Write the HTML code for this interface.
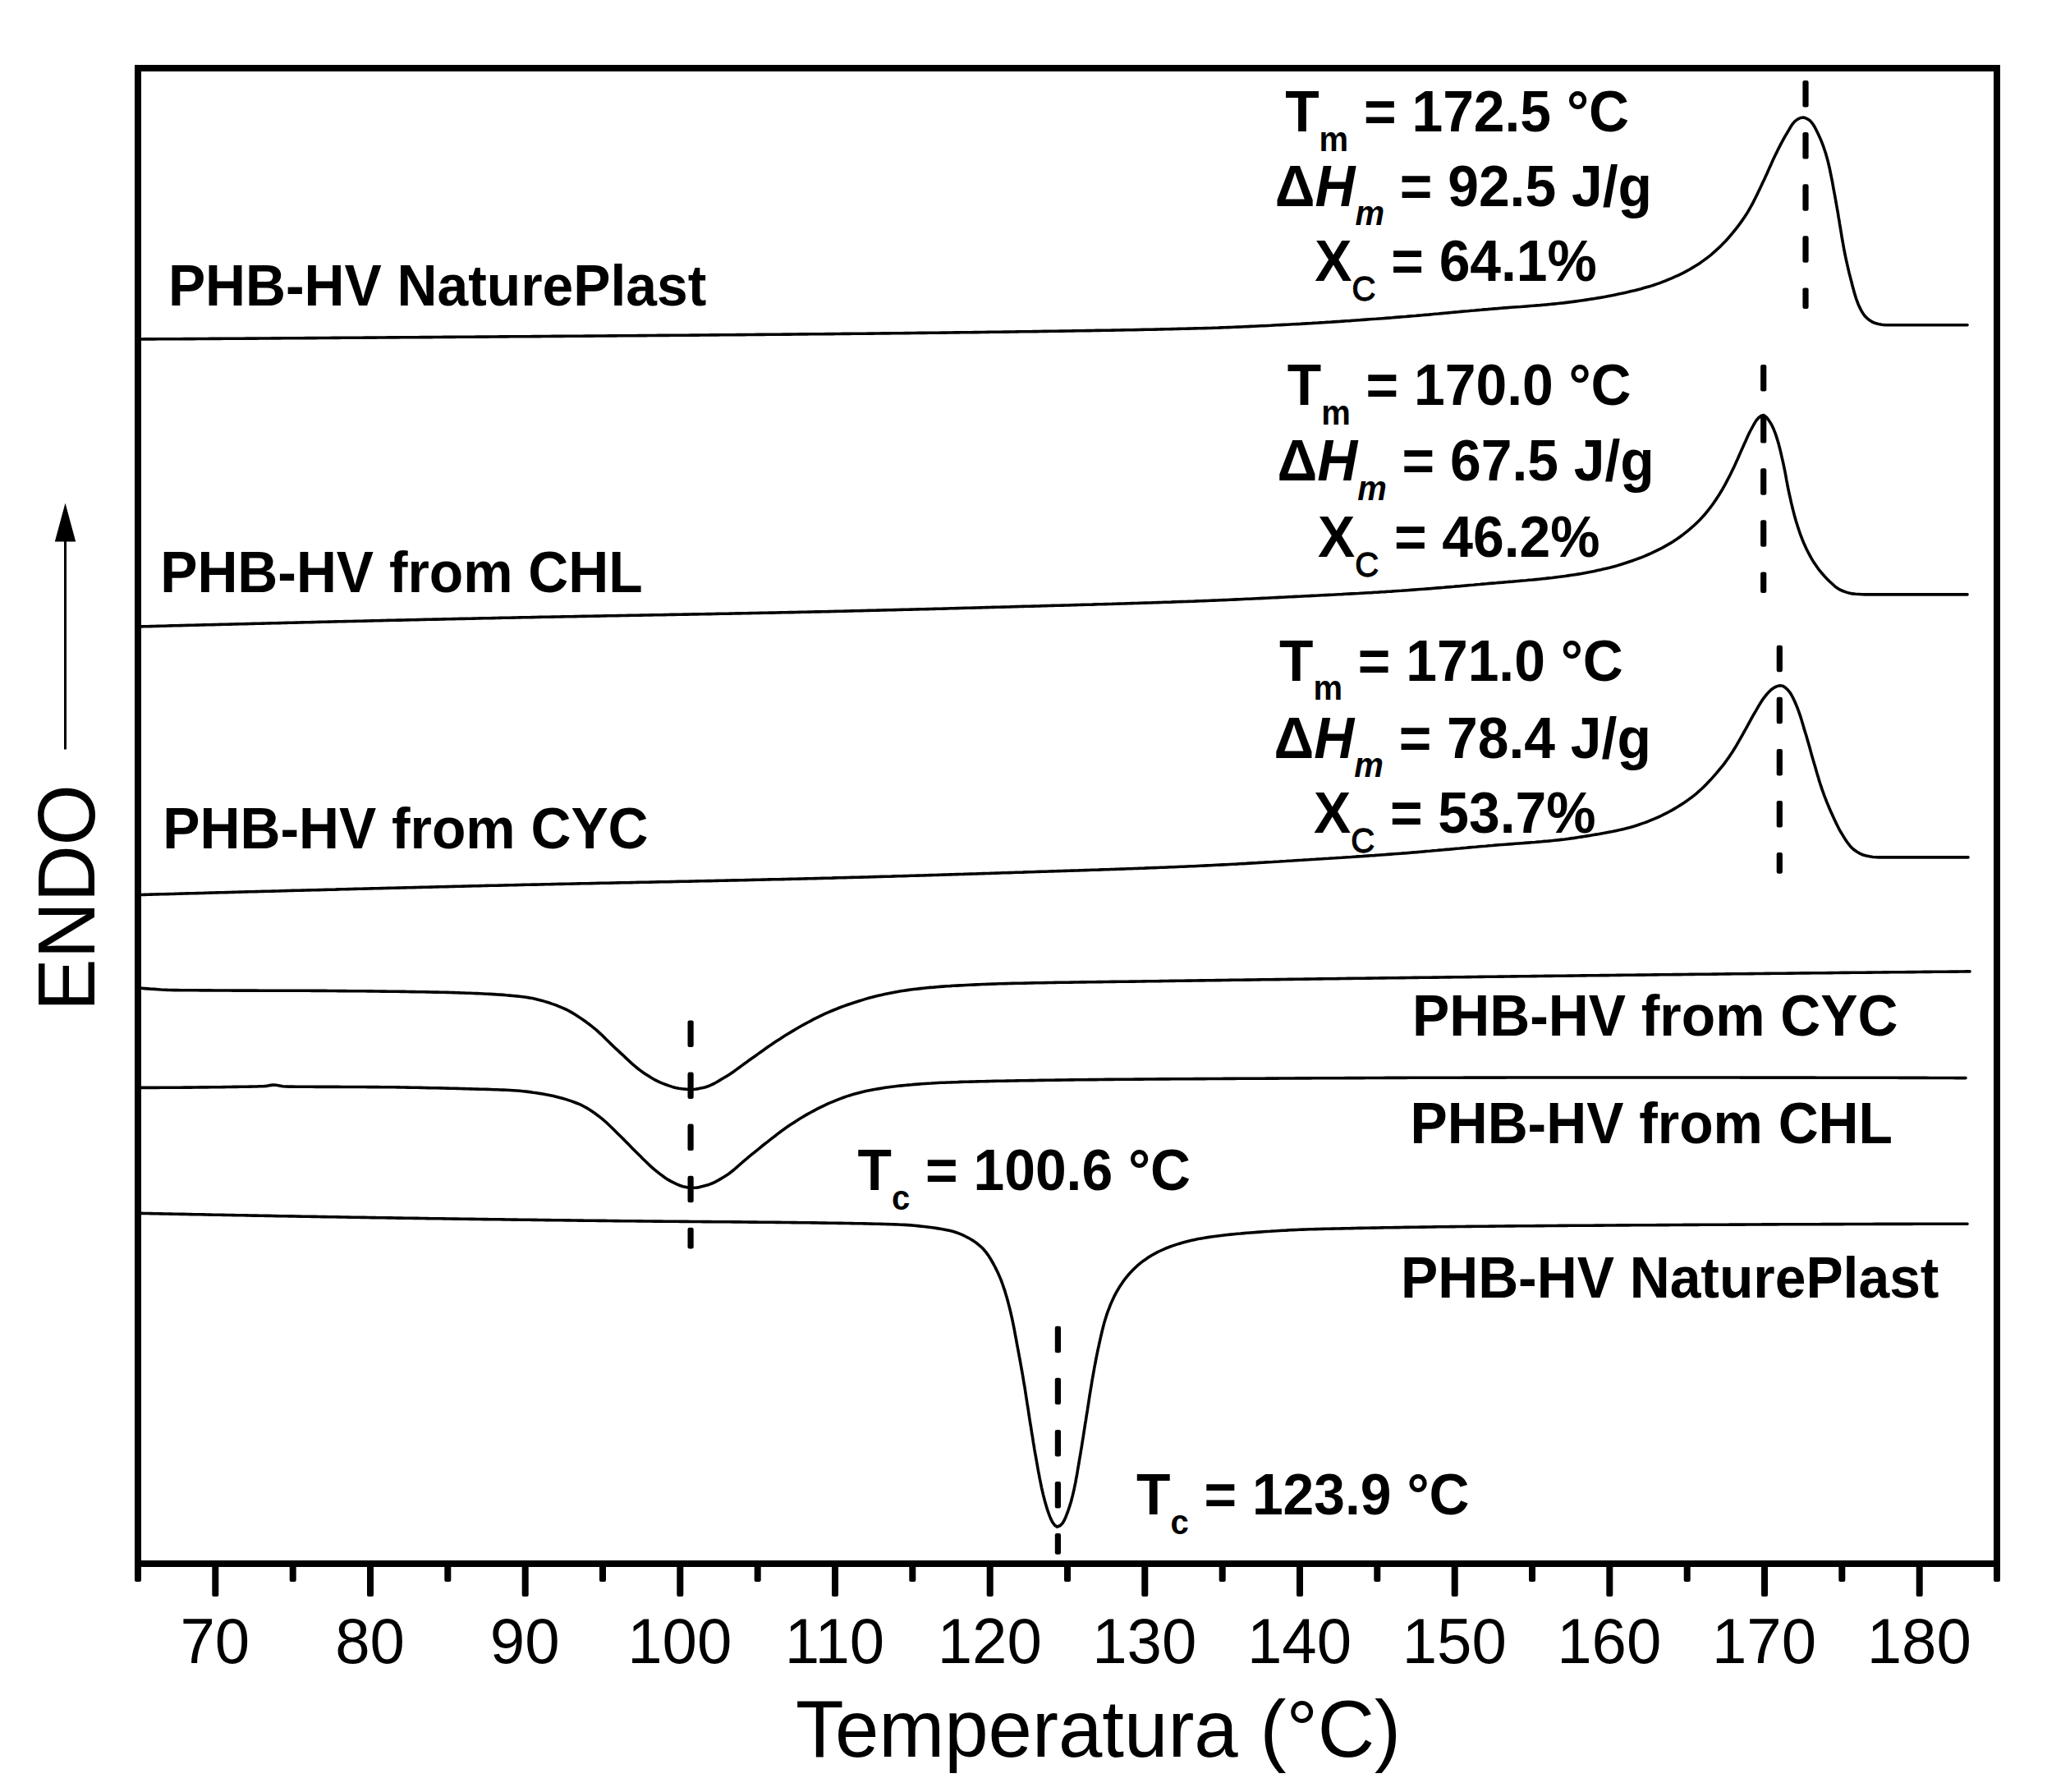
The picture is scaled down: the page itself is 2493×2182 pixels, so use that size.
<!DOCTYPE html>
<html lang="en"><head><meta charset="utf-8"><title>DSC thermograms</title>
<style>html,body{margin:0;padding:0;background:#fff}svg{display:block}</style></head>
<body>
<svg width="2493" height="2182" viewBox="0 0 2493 2182" font-family="Liberation Sans, Arial, Helvetica, sans-serif" fill="#000">
<rect width="2493" height="2182" fill="#fff"/>
<path d="M168.0,413.0 L172.0,413.0 L176.0,412.9 L180.0,412.9 L184.0,412.9 L188.1,412.9 L192.1,412.8 L196.1,412.8 L200.1,412.8 L204.1,412.8 L208.1,412.7 L212.1,412.7 L216.1,412.7 L220.1,412.7 L224.2,412.6 L228.2,412.6 L232.2,412.6 L236.2,412.6 L240.2,412.5 L244.2,412.5 L248.2,412.5 L252.2,412.5 L256.2,412.4 L260.3,412.4 L264.3,412.4 L268.3,412.4 L272.3,412.3 L276.3,412.3 L280.3,412.3 L284.3,412.2 L288.3,412.2 L292.4,412.2 L296.4,412.2 L300.4,412.1 L304.4,412.1 L308.4,412.1 L312.4,412.1 L316.4,412.0 L320.4,412.0 L324.4,412.0 L328.5,412.0 L332.5,411.9 L336.5,411.9 L340.5,411.9 L344.5,411.8 L348.5,411.8 L352.5,411.8 L356.5,411.8 L360.5,411.7 L364.6,411.7 L368.6,411.7 L372.6,411.6 L376.6,411.6 L380.6,411.6 L384.6,411.6 L388.6,411.5 L392.6,411.5 L396.6,411.5 L400.7,411.5 L404.7,411.4 L408.7,411.4 L412.7,411.4 L416.7,411.3 L420.7,411.3 L424.7,411.3 L428.7,411.3 L432.7,411.2 L436.8,411.2 L440.8,411.2 L444.8,411.1 L448.8,411.1 L452.8,411.1 L456.8,411.1 L460.8,411.0 L464.8,411.0 L468.8,411.0 L472.9,410.9 L476.9,410.9 L480.9,410.9 L484.9,410.9 L488.9,410.8 L492.9,410.8 L496.9,410.8 L500.9,410.7 L505.0,410.7 L509.0,410.7 L513.0,410.6 L517.0,410.6 L521.0,410.6 L525.0,410.6 L529.0,410.5 L533.0,410.5 L537.0,410.5 L541.1,410.4 L545.1,410.4 L549.1,410.4 L553.1,410.4 L557.1,410.3 L561.1,410.3 L565.1,410.3 L569.1,410.2 L573.1,410.2 L577.2,410.2 L581.2,410.1 L585.2,410.1 L589.2,410.1 L593.2,410.1 L597.2,410.0 L601.2,410.0 L605.2,410.0 L609.2,409.9 L613.3,409.9 L617.3,409.9 L621.3,409.8 L625.3,409.8 L629.3,409.8 L633.3,409.7 L637.3,409.7 L641.3,409.7 L645.3,409.7 L649.4,409.6 L653.4,409.6 L657.4,409.6 L661.4,409.5 L665.4,409.5 L669.4,409.5 L673.4,409.4 L677.4,409.4 L681.4,409.4 L685.5,409.4 L689.5,409.3 L693.5,409.3 L697.5,409.3 L701.5,409.2 L705.5,409.2 L709.5,409.2 L713.5,409.1 L717.6,409.1 L721.6,409.1 L725.6,409.0 L729.6,409.0 L733.6,409.0 L737.6,409.0 L741.6,408.9 L745.6,408.9 L749.6,408.9 L753.7,408.8 L757.7,408.8 L761.7,408.8 L765.7,408.7 L769.7,408.7 L773.7,408.7 L777.7,408.6 L781.7,408.6 L785.7,408.6 L789.8,408.5 L793.8,408.5 L797.8,408.5 L801.8,408.4 L805.8,408.4 L809.8,408.4 L813.8,408.4 L817.8,408.3 L821.8,408.3 L825.9,408.3 L829.9,408.2 L833.9,408.2 L837.9,408.2 L841.9,408.1 L845.9,408.1 L849.9,408.1 L853.9,408.0 L857.9,408.0 L862.0,408.0 L866.0,407.9 L870.0,407.9 L874.0,407.9 L878.0,407.8 L882.0,407.8 L886.0,407.7 L890.0,407.7 L894.0,407.7 L898.1,407.6 L902.1,407.6 L906.1,407.6 L910.1,407.5 L914.1,407.5 L918.1,407.5 L922.1,407.4 L926.1,407.4 L930.1,407.4 L934.2,407.3 L938.2,407.3 L942.2,407.2 L946.2,407.2 L950.2,407.2 L954.2,407.1 L958.2,407.1 L962.2,407.1 L966.3,407.0 L970.3,407.0 L974.3,406.9 L978.3,406.9 L982.3,406.9 L986.3,406.8 L990.3,406.8 L994.3,406.8 L998.3,406.7 L1002.4,406.7 L1006.4,406.6 L1010.4,406.6 L1014.4,406.6 L1018.4,406.5 L1022.4,406.5 L1026.4,406.4 L1030.4,406.4 L1034.4,406.4 L1038.5,406.3 L1042.5,406.3 L1046.5,406.2 L1050.5,406.2 L1054.5,406.2 L1058.5,406.1 L1062.5,406.1 L1066.5,406.0 L1070.5,406.0 L1074.6,405.9 L1078.6,405.9 L1082.6,405.9 L1086.6,405.8 L1090.6,405.8 L1094.6,405.7 L1098.6,405.7 L1102.6,405.6 L1106.6,405.6 L1110.7,405.5 L1114.7,405.5 L1118.7,405.4 L1122.7,405.4 L1126.7,405.4 L1130.7,405.3 L1134.7,405.3 L1138.7,405.2 L1142.7,405.2 L1146.8,405.1 L1150.8,405.1 L1154.8,405.0 L1158.8,405.0 L1162.8,404.9 L1166.8,404.9 L1170.8,404.8 L1174.8,404.8 L1178.8,404.7 L1182.9,404.7 L1186.9,404.6 L1190.9,404.6 L1194.9,404.5 L1198.9,404.5 L1202.9,404.4 L1206.9,404.3 L1210.9,404.3 L1214.9,404.2 L1219.0,404.2 L1223.0,404.1 L1227.0,404.1 L1231.0,404.0 L1235.0,404.0 L1239.0,403.9 L1243.0,403.8 L1247.0,403.8 L1251.0,403.7 L1255.1,403.7 L1259.1,403.6 L1263.1,403.6 L1267.1,403.5 L1271.1,403.4 L1275.1,403.4 L1279.1,403.3 L1283.1,403.3 L1287.1,403.2 L1291.2,403.1 L1295.2,403.1 L1299.2,403.0 L1303.2,403.0 L1307.2,402.9 L1311.2,402.8 L1315.2,402.8 L1319.2,402.7 L1323.2,402.6 L1327.3,402.6 L1331.3,402.5 L1335.3,402.4 L1339.3,402.4 L1343.3,402.3 L1347.3,402.2 L1351.3,402.2 L1355.3,402.1 L1359.3,402.0 L1363.4,402.0 L1367.4,401.9 L1371.4,401.8 L1375.4,401.7 L1379.4,401.7 L1383.4,401.6 L1387.4,401.5 L1391.4,401.4 L1395.4,401.3 L1399.5,401.2 L1403.5,401.2 L1407.5,401.1 L1411.5,401.0 L1415.5,400.9 L1419.5,400.8 L1423.5,400.7 L1427.5,400.6 L1431.5,400.5 L1435.5,400.4 L1439.6,400.3 L1443.6,400.2 L1447.6,400.1 L1451.6,400.0 L1455.6,399.9 L1459.6,399.8 L1463.6,399.7 L1467.6,399.6 L1471.6,399.5 L1475.6,399.4 L1479.6,399.2 L1483.7,399.1 L1487.7,398.9 L1491.7,398.8 L1495.7,398.6 L1499.7,398.5 L1503.7,398.3 L1507.7,398.1 L1511.7,398.0 L1515.7,397.8 L1519.7,397.6 L1523.7,397.4 L1527.7,397.2 L1531.8,397.0 L1535.8,396.8 L1539.8,396.7 L1543.8,396.5 L1547.8,396.3 L1551.8,396.0 L1555.8,395.8 L1559.8,395.6 L1563.8,395.4 L1567.8,395.2 L1571.8,395.0 L1575.8,394.8 L1579.8,394.6 L1583.8,394.4 L1587.8,394.1 L1591.8,393.9 L1595.8,393.7 L1599.8,393.4 L1603.9,393.2 L1607.9,392.9 L1611.9,392.7 L1615.9,392.4 L1619.9,392.2 L1623.9,391.9 L1627.9,391.6 L1631.9,391.4 L1635.9,391.1 L1639.9,390.8 L1643.9,390.6 L1647.9,390.3 L1651.9,390.0 L1655.9,389.7 L1659.9,389.4 L1663.9,389.1 L1667.9,388.8 L1671.9,388.5 L1675.9,388.3 L1679.9,388.0 L1683.9,387.7 L1687.9,387.4 L1691.9,387.1 L1695.9,386.8 L1699.9,386.4 L1703.9,386.1 L1707.9,385.8 L1711.9,385.5 L1715.9,385.1 L1719.9,384.8 L1723.9,384.5 L1727.9,384.1 L1731.9,383.8 L1735.9,383.4 L1739.9,383.1 L1743.9,382.7 L1747.9,382.3 L1751.8,382.0 L1755.8,381.6 L1759.8,381.2 L1763.8,380.9 L1767.8,380.5 L1771.8,380.1 L1775.8,379.8 L1779.8,379.4 L1783.8,379.0 L1787.8,378.7 L1791.8,378.3 L1795.8,378.0 L1799.8,377.6 L1803.8,377.3 L1807.8,376.9 L1811.8,376.6 L1815.8,376.2 L1819.8,375.9 L1823.8,375.6 L1827.8,375.2 L1831.8,374.9 L1835.8,374.6 L1839.8,374.3 L1843.8,374.0 L1847.8,373.7 L1851.8,373.5 L1855.8,373.2 L1859.8,372.9 L1863.8,372.5 L1867.8,372.2 L1871.8,371.9 L1875.8,371.6 L1879.8,371.2 L1883.8,370.9 L1887.8,370.5 L1891.8,370.1 L1895.7,369.7 L1899.7,369.3 L1903.7,368.9 L1907.7,368.4 L1911.7,367.9 L1915.7,367.4 L1919.6,366.9 L1923.6,366.3 L1927.6,365.7 L1931.6,365.1 L1935.5,364.5 L1939.5,363.9 L1943.5,363.2 L1947.4,362.6 L1951.4,361.9 L1955.3,361.2 L1959.2,360.4 L1963.2,359.7 L1967.1,358.9 L1971.1,358.1 L1975.0,357.3 L1978.9,356.4 L1982.9,355.6 L1986.8,354.6 L1990.7,353.7 L1994.6,352.7 L1998.5,351.7 L2002.3,350.6 L2006.1,349.5 L2010.0,348.4 L2013.8,347.2 L2017.6,345.9 L2021.4,344.6 L2025.1,343.1 L2028.9,341.7 L2032.6,340.1 L2036.3,338.6 L2040.0,336.9 L2043.7,335.3 L2047.3,333.6 L2050.8,331.8 L2054.4,329.9 L2057.9,328.0 L2061.4,325.9 L2064.9,323.8 L2068.2,321.7 L2071.6,319.4 L2074.8,317.1 L2078.0,314.8 L2081.2,312.3 L2084.3,309.8 L2087.4,307.1 L2090.4,304.4 L2093.4,301.7 L2096.2,298.9 L2099.1,296.0 L2101.8,293.2 L2104.5,290.2 L2107.1,287.2 L2109.7,284.1 L2112.3,281.0 L2114.8,277.9 L2117.3,274.6 L2119.7,271.4 L2122.0,268.1 L2124.3,264.8 L2126.5,261.4 L2128.6,258.1 L2130.6,254.7 L2132.6,251.2 L2134.5,247.7 L2136.3,244.1 L2138.1,240.5 L2139.9,236.9 L2141.6,233.2 L2143.4,229.6 L2145.1,226.0 L2146.8,222.3 L2148.6,218.7 L2150.2,215.1 L2151.9,211.4 L2153.5,207.8 L2155.1,204.1 L2156.8,200.4 L2158.4,196.7 L2160.1,193.1 L2161.8,189.5 L2163.6,185.9 L2165.3,182.3 L2167.2,178.7 L2169.0,175.1 L2170.9,171.6 L2172.8,168.1 L2174.8,164.6 L2176.9,161.2 L2179.0,157.6 L2181.1,154.0 L2183.4,150.6 L2186.0,147.6 L2189.0,145.4 L2192.8,143.5 L2196.6,143.0 L2200.5,144.4 L2203.9,146.6 L2206.5,149.2 L2208.8,152.5 L2210.9,156.2 L2212.8,160.0 L2214.5,163.6 L2216.2,167.2 L2217.8,170.9 L2219.3,174.6 L2220.7,178.4 L2222.0,182.3 L2223.3,186.1 L2224.4,189.9 L2225.5,193.8 L2226.5,197.6 L2227.4,201.5 L2228.3,205.4 L2229.1,209.3 L2229.9,213.3 L2230.7,217.2 L2231.5,221.2 L2232.2,225.1 L2232.9,229.1 L2233.6,233.0 L2234.4,237.0 L2235.1,241.0 L2235.8,244.9 L2236.5,248.9 L2237.2,252.8 L2237.9,256.8 L2238.6,260.7 L2239.2,264.7 L2239.9,268.6 L2240.5,272.6 L2241.2,276.6 L2241.8,280.5 L2242.5,284.5 L2243.1,288.4 L2243.8,292.4 L2244.5,296.3 L2245.2,300.3 L2245.9,304.2 L2246.7,308.2 L2247.5,312.1 L2248.3,316.0 L2249.2,319.9 L2250.1,323.9 L2251.0,327.8 L2251.9,331.7 L2252.9,335.6 L2253.9,339.4 L2254.9,343.3 L2255.9,347.2 L2256.9,351.1 L2258.0,355.0 L2259.1,358.9 L2260.3,362.8 L2261.6,366.5 L2263.0,370.2 L2264.7,373.9 L2266.5,377.6 L2268.6,381.2 L2270.9,384.4 L2273.5,387.1 L2276.7,389.8 L2280.2,392.0 L2283.9,393.6 L2287.6,394.5 L2291.6,395.3 L2295.7,395.7 L2299.7,395.8 L2303.7,395.8 L2307.7,395.8 L2311.7,395.8 L2315.7,395.8 L2319.6,395.8 L2323.6,395.8 L2327.6,395.8 L2331.6,395.8 L2335.6,395.8 L2339.6,395.8 L2343.6,395.8 L2347.6,395.8 L2351.7,395.8 L2355.7,395.8 L2359.7,395.8 L2363.7,395.8 L2367.7,395.8 L2371.8,395.8 L2375.8,395.8 L2379.8,395.8 L2383.9,395.8 L2387.9,395.8 L2391.9,395.8 L2396.0,395.8" fill="none" stroke="#000" stroke-width="3.6" stroke-linejoin="round" stroke-linecap="round"/>
<path d="M168.0,763.0 L172.0,762.9 L176.0,762.8 L180.0,762.7 L184.0,762.6 L188.0,762.5 L192.0,762.4 L196.0,762.3 L200.1,762.2 L204.1,762.0 L208.1,761.9 L212.1,761.8 L216.1,761.7 L220.1,761.6 L224.1,761.5 L228.1,761.4 L232.1,761.3 L236.1,761.2 L240.1,761.1 L244.1,761.0 L248.1,760.9 L252.1,760.8 L256.2,760.7 L260.2,760.6 L264.2,760.5 L268.2,760.4 L272.2,760.3 L276.2,760.2 L280.2,760.1 L284.2,760.0 L288.2,759.9 L292.2,759.8 L296.2,759.7 L300.2,759.6 L304.2,759.5 L308.2,759.4 L312.2,759.3 L316.3,759.2 L320.3,759.1 L324.3,759.0 L328.3,758.9 L332.3,758.8 L336.3,758.7 L340.3,758.6 L344.3,758.5 L348.3,758.4 L352.3,758.3 L356.3,758.2 L360.3,758.1 L364.3,758.0 L368.3,757.9 L372.4,757.8 L376.4,757.7 L380.4,757.6 L384.4,757.5 L388.4,757.4 L392.4,757.3 L396.4,757.2 L400.4,757.1 L404.4,757.0 L408.4,756.9 L412.4,756.8 L416.4,756.7 L420.4,756.6 L424.4,756.5 L428.5,756.5 L432.5,756.4 L436.5,756.3 L440.5,756.2 L444.5,756.1 L448.5,756.0 L452.5,755.9 L456.5,755.8 L460.5,755.7 L464.5,755.6 L468.5,755.5 L472.5,755.4 L476.5,755.3 L480.5,755.2 L484.6,755.1 L488.6,755.1 L492.6,755.0 L496.6,754.9 L500.6,754.8 L504.6,754.7 L508.6,754.6 L512.6,754.5 L516.6,754.4 L520.6,754.3 L524.6,754.2 L528.6,754.1 L532.6,754.1 L536.6,754.0 L540.7,753.9 L544.7,753.8 L548.7,753.7 L552.7,753.6 L556.7,753.5 L560.7,753.4 L564.7,753.4 L568.7,753.3 L572.7,753.2 L576.7,753.1 L580.7,753.0 L584.7,752.9 L588.7,752.8 L592.8,752.7 L596.8,752.7 L600.8,752.6 L604.8,752.5 L608.8,752.4 L612.8,752.3 L616.8,752.2 L620.8,752.2 L624.8,752.1 L628.8,752.0 L632.8,751.9 L636.8,751.8 L640.8,751.7 L644.8,751.7 L648.9,751.6 L652.9,751.5 L656.9,751.4 L660.9,751.3 L664.9,751.3 L668.9,751.2 L672.9,751.1 L676.9,751.0 L680.9,751.0 L684.9,750.9 L688.9,750.8 L692.9,750.7 L696.9,750.7 L701.0,750.6 L705.0,750.5 L709.0,750.4 L713.0,750.4 L717.0,750.3 L721.0,750.2 L725.0,750.1 L729.0,750.1 L733.0,750.0 L737.0,749.9 L741.0,749.8 L745.0,749.8 L749.0,749.7 L753.1,749.6 L757.1,749.5 L761.1,749.5 L765.1,749.4 L769.1,749.3 L773.1,749.2 L777.1,749.2 L781.1,749.1 L785.1,749.0 L789.1,749.0 L793.1,748.9 L797.1,748.8 L801.1,748.7 L805.1,748.7 L809.2,748.6 L813.2,748.5 L817.2,748.4 L821.2,748.4 L825.2,748.3 L829.2,748.2 L833.2,748.1 L837.2,748.1 L841.2,748.0 L845.2,747.9 L849.2,747.9 L853.2,747.8 L857.2,747.7 L861.3,747.6 L865.3,747.6 L869.3,747.5 L873.3,747.4 L877.3,747.3 L881.3,747.2 L885.3,747.2 L889.3,747.1 L893.3,747.0 L897.3,746.9 L901.3,746.9 L905.3,746.8 L909.3,746.7 L913.4,746.6 L917.4,746.5 L921.4,746.5 L925.4,746.4 L929.4,746.3 L933.4,746.2 L937.4,746.1 L941.4,746.1 L945.4,746.0 L949.4,745.9 L953.4,745.8 L957.4,745.7 L961.4,745.6 L965.4,745.6 L969.5,745.5 L973.5,745.4 L977.5,745.3 L981.5,745.2 L985.5,745.1 L989.5,745.0 L993.5,744.9 L997.5,744.9 L1001.5,744.8 L1005.5,744.7 L1009.5,744.6 L1013.5,744.5 L1017.5,744.4 L1021.5,744.3 L1025.6,744.2 L1029.6,744.1 L1033.6,744.0 L1037.6,743.9 L1041.6,743.8 L1045.6,743.7 L1049.6,743.6 L1053.6,743.5 L1057.6,743.4 L1061.6,743.3 L1065.6,743.2 L1069.6,743.1 L1073.6,743.0 L1077.6,742.9 L1081.7,742.8 L1085.7,742.7 L1089.7,742.6 L1093.7,742.5 L1097.7,742.4 L1101.7,742.3 L1105.7,742.2 L1109.7,742.1 L1113.7,742.0 L1117.7,741.9 L1121.7,741.8 L1125.7,741.7 L1129.7,741.6 L1133.7,741.5 L1137.8,741.4 L1141.8,741.3 L1145.8,741.2 L1149.8,741.1 L1153.8,741.0 L1157.8,740.8 L1161.8,740.7 L1165.8,740.6 L1169.8,740.5 L1173.8,740.4 L1177.8,740.3 L1181.8,740.2 L1185.8,740.1 L1189.8,740.0 L1193.8,739.9 L1197.9,739.8 L1201.9,739.6 L1205.9,739.5 L1209.9,739.4 L1213.9,739.3 L1217.9,739.2 L1221.9,739.1 L1225.9,739.0 L1229.9,738.9 L1233.9,738.7 L1237.9,738.6 L1241.9,738.5 L1245.9,738.4 L1249.9,738.3 L1253.9,738.2 L1258.0,738.1 L1262.0,738.0 L1266.0,737.9 L1270.0,737.7 L1274.0,737.6 L1278.0,737.5 L1282.0,737.4 L1286.0,737.3 L1290.0,737.2 L1294.0,737.1 L1298.0,737.0 L1302.0,736.9 L1306.0,736.7 L1310.0,736.6 L1314.1,736.5 L1318.1,736.4 L1322.1,736.3 L1326.1,736.2 L1330.1,736.1 L1334.1,735.9 L1338.1,735.8 L1342.1,735.7 L1346.1,735.6 L1350.1,735.5 L1354.1,735.4 L1358.1,735.2 L1362.1,735.1 L1366.1,735.0 L1370.1,734.9 L1374.2,734.7 L1378.2,734.6 L1382.2,734.5 L1386.2,734.4 L1390.2,734.2 L1394.2,734.1 L1398.2,734.0 L1402.2,733.9 L1406.2,733.7 L1410.2,733.6 L1414.2,733.5 L1418.2,733.3 L1422.2,733.2 L1426.2,733.1 L1430.2,732.9 L1434.2,732.8 L1438.2,732.6 L1442.3,732.5 L1446.3,732.4 L1450.3,732.2 L1454.3,732.1 L1458.3,731.9 L1462.3,731.8 L1466.3,731.6 L1470.3,731.5 L1474.3,731.3 L1478.3,731.1 L1482.3,731.0 L1486.3,730.8 L1490.3,730.6 L1494.3,730.5 L1498.3,730.3 L1502.3,730.1 L1506.3,729.9 L1510.3,729.7 L1514.3,729.5 L1518.3,729.3 L1522.3,729.2 L1526.3,729.0 L1530.4,728.8 L1534.4,728.6 L1538.4,728.4 L1542.4,728.2 L1546.4,728.0 L1550.4,727.8 L1554.4,727.6 L1558.4,727.4 L1562.4,727.2 L1566.4,727.0 L1570.4,726.8 L1574.4,726.6 L1578.4,726.4 L1582.4,726.2 L1586.4,726.0 L1590.4,725.8 L1594.4,725.6 L1598.4,725.4 L1602.4,725.2 L1606.4,725.0 L1610.4,724.8 L1614.4,724.6 L1618.4,724.4 L1622.4,724.2 L1626.4,724.0 L1630.4,723.8 L1634.4,723.6 L1638.4,723.3 L1642.4,723.1 L1646.4,722.9 L1650.5,722.7 L1654.5,722.5 L1658.5,722.2 L1662.5,722.0 L1666.5,721.8 L1670.5,721.6 L1674.5,721.3 L1678.5,721.1 L1682.5,720.8 L1686.5,720.6 L1690.5,720.3 L1694.5,720.1 L1698.5,719.8 L1702.5,719.5 L1706.5,719.3 L1710.5,719.0 L1714.5,718.7 L1718.4,718.4 L1722.4,718.1 L1726.4,717.8 L1730.4,717.5 L1734.4,717.2 L1738.4,716.9 L1742.4,716.6 L1746.4,716.2 L1750.4,715.9 L1754.4,715.6 L1758.4,715.3 L1762.4,714.9 L1766.4,714.6 L1770.4,714.3 L1774.4,713.9 L1778.4,713.6 L1782.4,713.2 L1786.4,712.9 L1790.4,712.5 L1794.4,712.2 L1798.4,711.8 L1802.3,711.5 L1806.3,711.1 L1810.3,710.8 L1814.3,710.4 L1818.3,710.1 L1822.3,709.8 L1826.3,709.4 L1830.3,709.1 L1834.3,708.7 L1838.3,708.4 L1842.3,708.1 L1846.3,707.7 L1850.3,707.4 L1854.3,707.0 L1858.3,706.7 L1862.3,706.3 L1866.3,706.0 L1870.3,705.6 L1874.3,705.2 L1878.2,704.8 L1882.2,704.4 L1886.2,703.9 L1890.2,703.5 L1894.2,703.0 L1898.1,702.5 L1902.1,702.0 L1906.1,701.5 L1910.0,700.9 L1914.0,700.3 L1918.0,699.7 L1921.9,699.1 L1925.9,698.4 L1929.8,697.7 L1933.8,696.9 L1937.7,696.2 L1941.7,695.4 L1945.6,694.5 L1949.5,693.7 L1953.4,692.8 L1957.3,691.9 L1961.2,691.0 L1965.0,689.9 L1968.9,688.9 L1972.8,687.7 L1976.6,686.5 L1980.5,685.3 L1984.3,684.0 L1988.1,682.7 L1991.8,681.4 L1995.6,680.0 L1999.3,678.6 L2003.0,677.1 L2006.7,675.5 L2010.4,673.9 L2014.1,672.2 L2017.7,670.4 L2021.3,668.6 L2024.8,666.8 L2028.3,664.9 L2031.8,662.9 L2035.2,660.9 L2038.6,658.7 L2042.0,656.5 L2045.3,654.2 L2048.6,651.8 L2051.7,649.4 L2054.9,646.9 L2057.9,644.4 L2061.0,641.7 L2064.0,639.0 L2066.9,636.2 L2069.7,633.4 L2072.5,630.5 L2075.2,627.6 L2077.8,624.5 L2080.3,621.4 L2082.8,618.2 L2085.2,615.0 L2087.5,611.7 L2089.8,608.4 L2092.0,605.1 L2094.1,601.7 L2096.2,598.3 L2098.2,594.8 L2100.2,591.3 L2102.1,587.8 L2104.0,584.2 L2105.8,580.7 L2107.7,577.1 L2109.4,573.5 L2111.2,569.9 L2112.9,566.3 L2114.5,562.6 L2116.2,559.0 L2117.8,555.3 L2119.4,551.6 L2121.0,547.9 L2122.7,544.3 L2124.3,540.6 L2126.0,537.0 L2127.6,533.3 L2129.3,529.6 L2131.0,526.0 L2132.9,522.5 L2134.8,519.0 L2136.8,515.4 L2139.0,511.9 L2141.5,509.0 L2144.8,506.3 L2148.2,505.6 L2151.4,508.2 L2154.1,511.6 L2156.2,514.9 L2158.2,518.4 L2159.9,522.1 L2161.4,525.9 L2162.8,529.6 L2164.0,533.4 L2165.2,537.2 L2166.3,541.1 L2167.3,545.0 L2168.3,548.9 L2169.2,552.8 L2170.1,556.8 L2171.0,560.7 L2171.9,564.6 L2172.7,568.5 L2173.5,572.4 L2174.3,576.4 L2175.0,580.3 L2175.7,584.3 L2176.5,588.2 L2177.2,592.1 L2178.0,596.1 L2178.8,600.0 L2179.7,603.9 L2180.6,607.8 L2181.4,611.7 L2182.4,615.6 L2183.3,619.5 L2184.3,623.4 L2185.3,627.3 L2186.4,631.2 L2187.5,635.0 L2188.7,638.8 L2189.9,642.7 L2191.2,646.5 L2192.5,650.3 L2193.9,654.0 L2195.4,657.8 L2196.9,661.5 L2198.5,665.1 L2200.2,668.7 L2202.0,672.3 L2203.9,675.9 L2205.8,679.4 L2207.9,682.9 L2210.1,686.3 L2212.3,689.5 L2214.6,692.8 L2217.1,695.9 L2219.7,699.0 L2222.4,702.0 L2225.2,704.9 L2228.0,707.7 L2231.0,710.5 L2234.0,713.3 L2237.2,715.8 L2240.5,717.9 L2244.1,719.5 L2247.9,720.9 L2251.8,722.1 L2255.8,722.9 L2259.7,723.3 L2263.7,723.5 L2267.7,723.7 L2271.7,723.9 L2275.8,723.9 L2279.8,723.9 L2283.8,723.9 L2287.8,723.9 L2291.8,723.9 L2295.8,723.9 L2299.8,723.9 L2303.8,723.9 L2307.8,723.9 L2311.8,723.9 L2315.8,723.9 L2319.8,723.9 L2323.8,723.9 L2327.8,723.9 L2331.8,723.9 L2335.9,723.9 L2339.9,723.9 L2343.9,723.9 L2347.9,723.9 L2351.9,723.9 L2355.9,723.9 L2359.9,723.9 L2363.9,723.9 L2367.9,723.9 L2371.9,723.9 L2375.9,723.9 L2380.0,723.9 L2384.0,723.9 L2388.0,723.9 L2392.0,723.9 L2396.0,723.9" fill="none" stroke="#000" stroke-width="3.6" stroke-linejoin="round" stroke-linecap="round"/>
<path d="M168.0,1089.6 L172.0,1089.5 L176.0,1089.4 L180.0,1089.3 L184.0,1089.1 L188.0,1089.0 L192.0,1088.9 L196.0,1088.8 L200.0,1088.7 L204.0,1088.6 L208.1,1088.5 L212.1,1088.4 L216.1,1088.2 L220.1,1088.1 L224.1,1088.0 L228.1,1087.9 L232.1,1087.8 L236.1,1087.7 L240.1,1087.6 L244.1,1087.5 L248.1,1087.4 L252.1,1087.2 L256.1,1087.1 L260.1,1087.0 L264.1,1086.9 L268.1,1086.8 L272.1,1086.7 L276.1,1086.6 L280.2,1086.5 L284.2,1086.4 L288.2,1086.3 L292.2,1086.1 L296.2,1086.0 L300.2,1085.9 L304.2,1085.8 L308.2,1085.7 L312.2,1085.6 L316.2,1085.5 L320.2,1085.4 L324.2,1085.3 L328.2,1085.2 L332.2,1085.1 L336.2,1085.0 L340.2,1084.9 L344.2,1084.7 L348.3,1084.6 L352.3,1084.5 L356.3,1084.4 L360.3,1084.3 L364.3,1084.2 L368.3,1084.1 L372.3,1084.0 L376.3,1083.9 L380.3,1083.8 L384.3,1083.7 L388.3,1083.6 L392.3,1083.5 L396.3,1083.4 L400.3,1083.3 L404.3,1083.2 L408.3,1083.1 L412.3,1082.9 L416.3,1082.8 L420.4,1082.7 L424.4,1082.6 L428.4,1082.5 L432.4,1082.4 L436.4,1082.3 L440.4,1082.2 L444.4,1082.1 L448.4,1082.0 L452.4,1081.9 L456.4,1081.8 L460.4,1081.7 L464.4,1081.6 L468.4,1081.5 L472.4,1081.4 L476.4,1081.3 L480.4,1081.2 L484.4,1081.1 L488.5,1081.0 L492.5,1080.9 L496.5,1080.8 L500.5,1080.7 L504.5,1080.6 L508.5,1080.5 L512.5,1080.4 L516.5,1080.3 L520.5,1080.2 L524.5,1080.1 L528.5,1080.0 L532.5,1079.9 L536.5,1079.8 L540.5,1079.7 L544.5,1079.6 L548.5,1079.5 L552.5,1079.4 L556.6,1079.3 L560.6,1079.2 L564.6,1079.1 L568.6,1079.0 L572.6,1078.9 L576.6,1078.8 L580.6,1078.7 L584.6,1078.6 L588.6,1078.5 L592.6,1078.4 L596.6,1078.3 L600.6,1078.2 L604.6,1078.2 L608.6,1078.1 L612.6,1078.0 L616.6,1077.9 L620.6,1077.8 L624.7,1077.7 L628.7,1077.6 L632.7,1077.5 L636.7,1077.4 L640.7,1077.3 L644.7,1077.2 L648.7,1077.1 L652.7,1077.1 L656.7,1077.0 L660.7,1076.9 L664.7,1076.8 L668.7,1076.7 L672.7,1076.6 L676.7,1076.5 L680.7,1076.4 L684.7,1076.4 L688.7,1076.3 L692.8,1076.2 L696.8,1076.1 L700.8,1076.0 L704.8,1075.9 L708.8,1075.8 L712.8,1075.8 L716.8,1075.7 L720.8,1075.6 L724.8,1075.5 L728.8,1075.4 L732.8,1075.3 L736.8,1075.2 L740.8,1075.2 L744.8,1075.1 L748.8,1075.0 L752.8,1074.9 L756.9,1074.8 L760.9,1074.7 L764.9,1074.7 L768.9,1074.6 L772.9,1074.5 L776.9,1074.4 L780.9,1074.3 L784.9,1074.2 L788.9,1074.2 L792.9,1074.1 L796.9,1074.0 L800.9,1073.9 L804.9,1073.8 L808.9,1073.7 L812.9,1073.7 L816.9,1073.6 L821.0,1073.5 L825.0,1073.4 L829.0,1073.3 L833.0,1073.2 L837.0,1073.2 L841.0,1073.1 L845.0,1073.0 L849.0,1072.9 L853.0,1072.8 L857.0,1072.7 L861.0,1072.6 L865.0,1072.6 L869.0,1072.5 L873.0,1072.4 L877.0,1072.3 L881.0,1072.2 L885.1,1072.1 L889.1,1072.0 L893.1,1071.9 L897.1,1071.9 L901.1,1071.8 L905.1,1071.7 L909.1,1071.6 L913.1,1071.5 L917.1,1071.4 L921.1,1071.3 L925.1,1071.2 L929.1,1071.1 L933.1,1071.0 L937.1,1070.9 L941.1,1070.8 L945.1,1070.8 L949.2,1070.7 L953.2,1070.6 L957.2,1070.5 L961.2,1070.4 L965.2,1070.3 L969.2,1070.2 L973.2,1070.1 L977.2,1070.0 L981.2,1069.9 L985.2,1069.8 L989.2,1069.7 L993.2,1069.6 L997.2,1069.5 L1001.2,1069.4 L1005.2,1069.3 L1009.2,1069.2 L1013.2,1069.1 L1017.2,1068.9 L1021.3,1068.8 L1025.3,1068.7 L1029.3,1068.6 L1033.3,1068.5 L1037.3,1068.4 L1041.3,1068.3 L1045.3,1068.2 L1049.3,1068.1 L1053.3,1068.0 L1057.3,1067.9 L1061.3,1067.7 L1065.3,1067.6 L1069.3,1067.5 L1073.3,1067.4 L1077.3,1067.3 L1081.3,1067.2 L1085.3,1067.1 L1089.3,1066.9 L1093.4,1066.8 L1097.4,1066.7 L1101.4,1066.6 L1105.4,1066.5 L1109.4,1066.3 L1113.4,1066.2 L1117.4,1066.1 L1121.4,1066.0 L1125.4,1065.9 L1129.4,1065.7 L1133.4,1065.6 L1137.4,1065.5 L1141.4,1065.4 L1145.4,1065.2 L1149.4,1065.1 L1153.4,1065.0 L1157.4,1064.9 L1161.4,1064.8 L1165.4,1064.6 L1169.5,1064.5 L1173.5,1064.4 L1177.5,1064.2 L1181.5,1064.1 L1185.5,1064.0 L1189.5,1063.9 L1193.5,1063.7 L1197.5,1063.6 L1201.5,1063.5 L1205.5,1063.4 L1209.5,1063.2 L1213.5,1063.1 L1217.5,1063.0 L1221.5,1062.8 L1225.5,1062.7 L1229.5,1062.6 L1233.5,1062.5 L1237.5,1062.3 L1241.5,1062.2 L1245.5,1062.1 L1249.6,1061.9 L1253.6,1061.8 L1257.6,1061.7 L1261.6,1061.5 L1265.6,1061.4 L1269.6,1061.3 L1273.6,1061.2 L1277.6,1061.0 L1281.6,1060.9 L1285.6,1060.8 L1289.6,1060.6 L1293.6,1060.5 L1297.6,1060.4 L1301.6,1060.3 L1305.6,1060.1 L1309.6,1060.0 L1313.6,1059.9 L1317.6,1059.7 L1321.6,1059.6 L1325.7,1059.5 L1329.7,1059.3 L1333.7,1059.2 L1337.7,1059.1 L1341.7,1058.9 L1345.7,1058.8 L1349.7,1058.7 L1353.7,1058.5 L1357.7,1058.4 L1361.7,1058.2 L1365.7,1058.1 L1369.7,1058.0 L1373.7,1057.8 L1377.7,1057.7 L1381.7,1057.5 L1385.7,1057.4 L1389.7,1057.2 L1393.7,1057.1 L1397.7,1056.9 L1401.7,1056.8 L1405.7,1056.6 L1409.8,1056.5 L1413.8,1056.3 L1417.8,1056.2 L1421.8,1056.0 L1425.8,1055.8 L1429.8,1055.7 L1433.8,1055.5 L1437.8,1055.3 L1441.8,1055.2 L1445.8,1055.0 L1449.8,1054.8 L1453.8,1054.7 L1457.8,1054.5 L1461.8,1054.3 L1465.8,1054.1 L1469.8,1053.9 L1473.8,1053.7 L1477.8,1053.5 L1481.8,1053.3 L1485.8,1053.1 L1489.8,1052.9 L1493.8,1052.7 L1497.8,1052.5 L1501.8,1052.3 L1505.8,1052.1 L1509.8,1051.8 L1513.8,1051.6 L1517.8,1051.4 L1521.8,1051.1 L1525.8,1050.9 L1529.8,1050.7 L1533.8,1050.4 L1537.8,1050.2 L1541.8,1049.9 L1545.8,1049.7 L1549.8,1049.5 L1553.8,1049.2 L1557.8,1049.0 L1561.8,1048.7 L1565.8,1048.5 L1569.8,1048.2 L1573.8,1048.0 L1577.8,1047.7 L1581.8,1047.5 L1585.8,1047.3 L1589.8,1047.0 L1593.8,1046.8 L1597.8,1046.5 L1601.8,1046.3 L1605.8,1046.0 L1609.8,1045.8 L1613.8,1045.5 L1617.8,1045.3 L1621.8,1045.0 L1625.8,1044.8 L1629.8,1044.5 L1633.8,1044.3 L1637.8,1044.0 L1641.8,1043.7 L1645.8,1043.5 L1649.8,1043.2 L1653.8,1042.9 L1657.8,1042.7 L1661.8,1042.4 L1665.8,1042.1 L1669.8,1041.8 L1673.8,1041.6 L1677.8,1041.3 L1681.8,1041.0 L1685.8,1040.7 L1689.8,1040.4 L1693.8,1040.1 L1697.8,1039.8 L1701.8,1039.5 L1705.8,1039.2 L1709.7,1038.9 L1713.7,1038.6 L1717.7,1038.2 L1721.7,1037.9 L1725.7,1037.6 L1729.7,1037.2 L1733.7,1036.9 L1737.7,1036.5 L1741.7,1036.2 L1745.7,1035.8 L1749.7,1035.5 L1753.7,1035.1 L1757.7,1034.8 L1761.6,1034.4 L1765.6,1034.1 L1769.6,1033.7 L1773.6,1033.3 L1777.6,1033.0 L1781.6,1032.6 L1785.6,1032.3 L1789.6,1031.9 L1793.6,1031.5 L1797.6,1031.2 L1801.6,1030.8 L1805.6,1030.5 L1809.5,1030.2 L1813.5,1029.8 L1817.5,1029.5 L1821.5,1029.1 L1825.5,1028.8 L1829.5,1028.5 L1833.5,1028.2 L1837.5,1027.9 L1841.5,1027.6 L1845.5,1027.3 L1849.5,1027.0 L1853.5,1026.7 L1857.5,1026.4 L1861.5,1026.1 L1865.5,1025.8 L1869.5,1025.5 L1873.5,1025.1 L1877.5,1024.8 L1881.5,1024.4 L1885.5,1024.1 L1889.4,1023.7 L1893.4,1023.3 L1897.4,1022.9 L1901.4,1022.4 L1905.4,1022.0 L1909.3,1021.5 L1913.3,1020.9 L1917.3,1020.4 L1921.2,1019.8 L1925.2,1019.1 L1929.2,1018.5 L1933.1,1017.9 L1937.1,1017.2 L1941.0,1016.5 L1945.0,1015.9 L1948.9,1015.2 L1952.9,1014.5 L1956.8,1013.8 L1960.8,1013.0 L1964.7,1012.3 L1968.6,1011.4 L1972.6,1010.6 L1976.5,1009.7 L1980.3,1008.8 L1984.2,1007.8 L1988.0,1006.7 L1991.9,1005.5 L1995.7,1004.2 L1999.5,1002.9 L2003.3,1001.6 L2007.1,1000.2 L2010.8,998.7 L2014.5,997.2 L2018.1,995.6 L2021.8,994.0 L2025.4,992.2 L2029.0,990.4 L2032.6,988.5 L2036.1,986.6 L2039.5,984.6 L2043.0,982.5 L2046.4,980.4 L2049.8,978.2 L2053.1,976.0 L2056.4,973.6 L2059.6,971.3 L2062.8,968.8 L2065.9,966.3 L2068.9,963.7 L2071.9,961.0 L2074.8,958.3 L2077.6,955.4 L2080.4,952.5 L2083.2,949.6 L2085.9,946.6 L2088.5,943.6 L2091.1,940.6 L2093.7,937.5 L2096.3,934.4 L2098.8,931.3 L2101.2,928.1 L2103.6,924.8 L2105.9,921.6 L2108.1,918.3 L2110.3,914.9 L2112.4,911.5 L2114.5,908.1 L2116.5,904.6 L2118.5,901.1 L2120.5,897.6 L2122.5,894.1 L2124.4,890.7 L2126.4,887.2 L2128.3,883.6 L2130.2,880.1 L2132.1,876.6 L2134.0,873.1 L2136.0,869.6 L2138.1,866.1 L2140.1,862.6 L2142.1,859.1 L2144.2,855.7 L2146.4,852.3 L2148.7,849.1 L2151.2,846.0 L2153.9,842.9 L2156.8,840.0 L2160.0,837.7 L2163.5,835.9 L2167.5,834.7 L2171.2,835.2 L2174.7,837.6 L2177.6,840.3 L2180.0,843.3 L2182.1,846.7 L2184.0,850.4 L2185.8,854.2 L2187.4,858.0 L2188.9,861.6 L2190.3,865.3 L2191.6,869.1 L2192.9,872.9 L2194.1,876.8 L2195.2,880.6 L2196.4,884.5 L2197.5,888.4 L2198.7,892.2 L2199.9,896.0 L2201.0,899.9 L2202.1,903.7 L2203.2,907.6 L2204.3,911.4 L2205.3,915.3 L2206.4,919.2 L2207.5,923.0 L2208.6,926.9 L2209.8,930.7 L2210.9,934.6 L2212.0,938.4 L2213.1,942.3 L2214.3,946.1 L2215.4,949.9 L2216.6,953.8 L2217.9,957.6 L2219.1,961.4 L2220.5,965.1 L2221.8,968.9 L2223.3,972.7 L2224.7,976.4 L2226.3,980.1 L2227.8,983.8 L2229.4,987.5 L2231.0,991.1 L2232.7,994.8 L2234.4,998.4 L2236.1,1002.1 L2237.9,1005.7 L2239.7,1009.3 L2241.7,1012.8 L2243.7,1016.2 L2245.8,1019.6 L2248.0,1023.1 L2250.4,1026.5 L2252.9,1029.7 L2255.5,1032.6 L2258.4,1035.0 L2261.7,1037.3 L2265.3,1039.4 L2269.1,1041.0 L2272.8,1042.0 L2276.7,1042.8 L2280.8,1043.5 L2284.8,1043.8 L2288.8,1043.9 L2292.8,1043.9 L2296.8,1043.9 L2300.7,1043.9 L2304.7,1043.9 L2308.7,1043.9 L2312.7,1043.9 L2316.7,1043.9 L2320.7,1043.9 L2324.7,1043.9 L2328.7,1043.9 L2332.7,1043.9 L2336.7,1043.9 L2340.7,1043.9 L2344.7,1043.9 L2348.7,1043.9 L2352.7,1043.9 L2356.7,1043.9 L2360.7,1043.9 L2364.7,1043.9 L2368.8,1043.9 L2372.8,1043.9 L2376.8,1043.9 L2380.8,1043.9 L2384.9,1043.9 L2388.9,1043.9 L2393.0,1043.9 L2397.0,1043.9" fill="none" stroke="#000" stroke-width="3.6" stroke-linejoin="round" stroke-linecap="round"/>
<path d="M168.0,1203.0 L172.0,1203.3 L176.0,1203.6 L180.0,1203.9 L184.0,1204.2 L188.0,1204.4 L192.0,1204.7 L196.0,1205.0 L200.0,1205.2 L204.0,1205.4 L208.0,1205.5 L212.0,1205.6 L216.0,1205.6 L220.0,1205.7 L224.0,1205.7 L228.0,1205.7 L232.0,1205.8 L236.0,1205.8 L240.0,1205.8 L244.0,1205.9 L248.0,1205.9 L252.1,1205.9 L256.1,1205.9 L260.1,1206.0 L264.1,1206.0 L268.1,1206.0 L272.1,1206.0 L276.1,1206.0 L280.1,1206.0 L284.1,1206.1 L288.1,1206.1 L292.1,1206.1 L296.1,1206.1 L300.1,1206.1 L304.1,1206.1 L308.2,1206.1 L312.2,1206.1 L316.2,1206.2 L320.2,1206.2 L324.2,1206.2 L328.2,1206.2 L332.2,1206.2 L336.2,1206.2 L340.2,1206.2 L344.2,1206.2 L348.2,1206.2 L352.2,1206.3 L356.3,1206.3 L360.3,1206.3 L364.3,1206.3 L368.3,1206.3 L372.3,1206.3 L376.3,1206.3 L380.3,1206.4 L384.3,1206.4 L388.3,1206.4 L392.3,1206.4 L396.3,1206.4 L400.3,1206.5 L404.3,1206.5 L408.4,1206.5 L412.4,1206.6 L416.4,1206.6 L420.4,1206.6 L424.4,1206.7 L428.4,1206.7 L432.4,1206.7 L436.4,1206.8 L440.4,1206.8 L444.4,1206.8 L448.4,1206.9 L452.4,1206.9 L456.4,1207.0 L460.4,1207.0 L464.5,1207.1 L468.5,1207.1 L472.5,1207.2 L476.5,1207.2 L480.5,1207.3 L484.5,1207.3 L488.5,1207.4 L492.5,1207.4 L496.5,1207.5 L500.5,1207.6 L504.5,1207.6 L508.5,1207.7 L512.5,1207.8 L516.5,1207.8 L520.5,1207.9 L524.5,1208.0 L528.6,1208.1 L532.6,1208.1 L536.6,1208.2 L540.6,1208.3 L544.6,1208.4 L548.6,1208.5 L552.6,1208.6 L556.6,1208.7 L560.6,1208.9 L564.6,1209.0 L568.6,1209.2 L572.6,1209.3 L576.6,1209.5 L580.6,1209.6 L584.6,1209.8 L588.6,1210.0 L592.6,1210.2 L596.6,1210.4 L600.6,1210.6 L604.7,1210.9 L608.7,1211.1 L612.7,1211.4 L616.7,1211.8 L620.7,1212.1 L624.7,1212.5 L628.7,1212.9 L632.7,1213.3 L636.6,1213.8 L640.6,1214.3 L644.5,1214.9 L648.4,1215.6 L652.4,1216.4 L656.3,1217.4 L660.2,1218.4 L664.1,1219.6 L668.0,1220.8 L671.8,1222.1 L675.6,1223.4 L679.3,1224.8 L683.0,1226.3 L686.6,1227.8 L690.2,1229.5 L693.7,1231.4 L697.2,1233.4 L700.7,1235.5 L704.1,1237.7 L707.5,1239.9 L710.8,1242.3 L714.1,1244.6 L717.3,1247.0 L720.4,1249.4 L723.5,1251.8 L726.6,1254.4 L729.5,1257.1 L732.5,1259.8 L735.4,1262.6 L738.2,1265.4 L741.1,1268.3 L744.0,1271.1 L746.9,1273.9 L749.8,1276.7 L752.8,1279.4 L755.7,1282.1 L758.7,1284.8 L761.6,1287.6 L764.6,1290.4 L767.5,1293.1 L770.5,1295.8 L773.5,1298.4 L776.6,1301.0 L779.8,1303.4 L783.0,1305.7 L786.3,1307.9 L789.7,1310.1 L793.1,1312.3 L796.6,1314.3 L800.2,1316.2 L803.8,1317.9 L807.5,1319.4 L811.2,1320.8 L815.0,1322.1 L818.9,1323.4 L822.8,1324.4 L826.7,1325.2 L830.6,1325.7 L834.6,1326.1 L838.6,1326.4 L842.6,1326.5 L846.6,1326.2 L850.7,1325.6 L854.6,1324.8 L858.4,1323.9 L862.2,1322.8 L865.9,1321.2 L869.5,1319.5 L873.1,1317.5 L876.6,1315.4 L880.1,1313.3 L883.5,1311.2 L886.9,1309.2 L890.3,1307.0 L893.6,1304.7 L896.8,1302.4 L900.1,1300.0 L903.3,1297.6 L906.5,1295.2 L909.8,1292.9 L913.0,1290.5 L916.3,1288.2 L919.6,1285.9 L922.8,1283.6 L926.1,1281.2 L929.4,1278.9 L932.7,1276.6 L935.9,1274.3 L939.3,1272.1 L942.6,1269.8 L945.9,1267.6 L949.3,1265.4 L952.6,1263.3 L956.0,1261.1 L959.4,1259.0 L962.9,1256.9 L966.3,1254.9 L969.8,1252.8 L973.2,1250.8 L976.7,1248.8 L980.2,1246.9 L983.7,1245.0 L987.3,1243.1 L990.8,1241.2 L994.4,1239.4 L998.0,1237.6 L1001.6,1235.9 L1005.2,1234.2 L1008.9,1232.6 L1012.6,1231.0 L1016.3,1229.5 L1020.0,1228.0 L1023.7,1226.5 L1027.5,1225.1 L1031.3,1223.8 L1035.1,1222.5 L1038.9,1221.2 L1042.7,1220.0 L1046.5,1218.8 L1050.3,1217.6 L1054.2,1216.4 L1058.0,1215.3 L1061.9,1214.3 L1065.8,1213.2 L1069.7,1212.3 L1073.6,1211.4 L1077.5,1210.6 L1081.4,1209.8 L1085.3,1209.0 L1089.3,1208.2 L1093.2,1207.5 L1097.2,1206.8 L1101.1,1206.2 L1105.1,1205.6 L1109.1,1205.0 L1113.1,1204.5 L1117.0,1204.1 L1121.0,1203.6 L1125.0,1203.2 L1129.0,1202.8 L1133.0,1202.4 L1137.0,1202.1 L1141.0,1201.7 L1145.0,1201.4 L1149.0,1201.1 L1153.0,1200.8 L1157.0,1200.6 L1161.0,1200.3 L1164.9,1200.1 L1168.9,1199.9 L1172.9,1199.7 L1176.9,1199.5 L1181.0,1199.3 L1185.0,1199.1 L1189.0,1198.9 L1193.0,1198.7 L1197.0,1198.5 L1201.0,1198.4 L1205.0,1198.2 L1209.0,1198.1 L1213.0,1198.0 L1217.0,1197.8 L1221.0,1197.7 L1225.0,1197.6 L1229.0,1197.5 L1233.0,1197.4 L1237.0,1197.3 L1241.0,1197.2 L1245.0,1197.2 L1249.0,1197.1 L1253.0,1197.0 L1257.1,1196.9 L1261.1,1196.8 L1265.1,1196.8 L1269.1,1196.7 L1273.1,1196.6 L1277.1,1196.5 L1281.1,1196.5 L1285.1,1196.4 L1289.1,1196.3 L1293.1,1196.3 L1297.1,1196.2 L1301.1,1196.2 L1305.1,1196.1 L1309.1,1196.0 L1313.1,1196.0 L1317.1,1195.9 L1321.2,1195.9 L1325.2,1195.8 L1329.2,1195.8 L1333.2,1195.7 L1337.2,1195.6 L1341.2,1195.6 L1345.2,1195.5 L1349.2,1195.5 L1353.2,1195.4 L1357.2,1195.4 L1361.2,1195.3 L1365.2,1195.3 L1369.2,1195.2 L1373.2,1195.2 L1377.3,1195.1 L1381.3,1195.1 L1385.3,1195.0 L1389.3,1195.0 L1393.3,1194.9 L1397.3,1194.8 L1401.3,1194.8 L1405.3,1194.7 L1409.3,1194.7 L1413.3,1194.6 L1417.3,1194.5 L1421.3,1194.5 L1425.3,1194.4 L1429.3,1194.4 L1433.4,1194.3 L1437.4,1194.3 L1441.4,1194.2 L1445.4,1194.1 L1449.4,1194.1 L1453.4,1194.0 L1457.4,1194.0 L1461.4,1193.9 L1465.4,1193.9 L1469.4,1193.8 L1473.4,1193.7 L1477.4,1193.7 L1481.4,1193.6 L1485.4,1193.6 L1489.4,1193.5 L1493.5,1193.5 L1497.5,1193.4 L1501.5,1193.3 L1505.5,1193.3 L1509.5,1193.2 L1513.5,1193.2 L1517.5,1193.1 L1521.5,1193.1 L1525.5,1193.0 L1529.5,1193.0 L1533.5,1192.9 L1537.5,1192.8 L1541.5,1192.8 L1545.5,1192.7 L1549.5,1192.7 L1553.6,1192.6 L1557.6,1192.6 L1561.6,1192.5 L1565.6,1192.5 L1569.6,1192.4 L1573.6,1192.4 L1577.6,1192.3 L1581.6,1192.2 L1585.6,1192.2 L1589.6,1192.1 L1593.6,1192.1 L1597.6,1192.0 L1601.6,1192.0 L1605.6,1191.9 L1609.6,1191.9 L1613.7,1191.8 L1617.7,1191.8 L1621.7,1191.7 L1625.7,1191.7 L1629.7,1191.6 L1633.7,1191.5 L1637.7,1191.5 L1641.7,1191.4 L1645.7,1191.4 L1649.7,1191.3 L1653.7,1191.3 L1657.7,1191.2 L1661.7,1191.2 L1665.7,1191.1 L1669.7,1191.1 L1673.8,1191.0 L1677.8,1191.0 L1681.8,1190.9 L1685.8,1190.9 L1689.8,1190.8 L1693.8,1190.8 L1697.8,1190.7 L1701.8,1190.7 L1705.8,1190.6 L1709.8,1190.6 L1713.8,1190.5 L1717.8,1190.5 L1721.8,1190.4 L1725.8,1190.4 L1729.9,1190.3 L1733.9,1190.3 L1737.9,1190.2 L1741.9,1190.2 L1745.9,1190.1 L1749.9,1190.1 L1753.9,1190.0 L1757.9,1190.0 L1761.9,1189.9 L1765.9,1189.9 L1769.9,1189.8 L1773.9,1189.8 L1777.9,1189.7 L1781.9,1189.7 L1785.9,1189.6 L1790.0,1189.6 L1794.0,1189.5 L1798.0,1189.5 L1802.0,1189.4 L1806.0,1189.4 L1810.0,1189.3 L1814.0,1189.3 L1818.0,1189.2 L1822.0,1189.2 L1826.0,1189.1 L1830.0,1189.1 L1834.0,1189.0 L1838.0,1189.0 L1842.0,1188.9 L1846.0,1188.9 L1850.1,1188.8 L1854.1,1188.8 L1858.1,1188.7 L1862.1,1188.7 L1866.1,1188.6 L1870.1,1188.6 L1874.1,1188.5 L1878.1,1188.5 L1882.1,1188.4 L1886.1,1188.4 L1890.1,1188.4 L1894.1,1188.3 L1898.1,1188.3 L1902.1,1188.2 L1906.2,1188.2 L1910.2,1188.1 L1914.2,1188.1 L1918.2,1188.0 L1922.2,1188.0 L1926.2,1187.9 L1930.2,1187.9 L1934.2,1187.8 L1938.2,1187.8 L1942.2,1187.7 L1946.2,1187.7 L1950.2,1187.6 L1954.2,1187.6 L1958.2,1187.6 L1962.2,1187.5 L1966.3,1187.5 L1970.3,1187.4 L1974.3,1187.4 L1978.3,1187.3 L1982.3,1187.3 L1986.3,1187.2 L1990.3,1187.2 L1994.3,1187.1 L1998.3,1187.1 L2002.3,1187.1 L2006.3,1187.0 L2010.3,1187.0 L2014.3,1186.9 L2018.3,1186.9 L2022.4,1186.8 L2026.4,1186.8 L2030.4,1186.7 L2034.4,1186.7 L2038.4,1186.6 L2042.4,1186.6 L2046.4,1186.6 L2050.4,1186.5 L2054.4,1186.5 L2058.4,1186.4 L2062.4,1186.4 L2066.4,1186.3 L2070.4,1186.3 L2074.4,1186.2 L2078.4,1186.2 L2082.5,1186.2 L2086.5,1186.1 L2090.5,1186.1 L2094.5,1186.0 L2098.5,1186.0 L2102.5,1185.9 L2106.5,1185.9 L2110.5,1185.8 L2114.5,1185.8 L2118.5,1185.8 L2122.5,1185.7 L2126.5,1185.7 L2130.5,1185.6 L2134.5,1185.6 L2138.5,1185.5 L2142.6,1185.5 L2146.6,1185.5 L2150.6,1185.4 L2154.6,1185.4 L2158.6,1185.3 L2162.6,1185.3 L2166.6,1185.2 L2170.6,1185.2 L2174.6,1185.2 L2178.6,1185.1 L2182.6,1185.1 L2186.6,1185.0 L2190.6,1185.0 L2194.6,1184.9 L2198.7,1184.9 L2202.7,1184.9 L2206.7,1184.8 L2210.7,1184.8 L2214.7,1184.7 L2218.7,1184.7 L2222.7,1184.7 L2226.7,1184.6 L2230.7,1184.6 L2234.7,1184.5 L2238.7,1184.5 L2242.7,1184.4 L2246.7,1184.4 L2250.7,1184.4 L2254.8,1184.3 L2258.8,1184.3 L2262.8,1184.2 L2266.8,1184.2 L2270.8,1184.2 L2274.8,1184.1 L2278.8,1184.1 L2282.8,1184.0 L2286.8,1184.0 L2290.8,1184.0 L2294.8,1183.9 L2298.8,1183.9 L2302.8,1183.8 L2306.8,1183.8 L2310.8,1183.8 L2314.9,1183.7 L2318.9,1183.7 L2322.9,1183.6 L2326.9,1183.6 L2330.9,1183.6 L2334.9,1183.5 L2338.9,1183.5 L2342.9,1183.4 L2346.9,1183.4 L2350.9,1183.4 L2354.9,1183.3 L2358.9,1183.3 L2362.9,1183.2 L2366.9,1183.2 L2371.0,1183.2 L2375.0,1183.1 L2379.0,1183.1 L2383.0,1183.1 L2387.0,1183.0 L2391.0,1183.0 L2395.0,1182.9 L2399.0,1182.9" fill="none" stroke="#000" stroke-width="3.6" stroke-linejoin="round" stroke-linecap="round"/>
<path d="M168.0,1324.4 L172.0,1324.4 L176.0,1324.4 L180.0,1324.4 L184.1,1324.4 L188.1,1324.4 L192.1,1324.4 L196.1,1324.3 L200.1,1324.3 L204.1,1324.3 L208.1,1324.3 L212.1,1324.2 L216.2,1324.2 L220.2,1324.2 L224.2,1324.1 L228.2,1324.1 L232.2,1324.1 L236.2,1324.0 L240.2,1324.0 L244.2,1323.9 L248.3,1323.9 L252.3,1323.9 L256.3,1323.8 L260.3,1323.8 L264.3,1323.7 L268.3,1323.7 L272.3,1323.6 L276.3,1323.5 L280.3,1323.5 L284.4,1323.4 L288.4,1323.4 L292.4,1323.3 L296.4,1323.3 L300.4,1323.2 L304.4,1323.1 L308.4,1323.0 L312.5,1323.0 L316.5,1322.8 L320.5,1322.7 L324.5,1322.4 L328.4,1321.6 L332.4,1321.1 L336.4,1321.2 L340.3,1321.9 L344.3,1322.8 L348.3,1323.0 L352.3,1323.1 L356.3,1323.1 L360.2,1323.2 L364.2,1323.2 L368.2,1323.2 L372.2,1323.3 L376.2,1323.3 L380.3,1323.3 L384.3,1323.4 L388.3,1323.4 L392.3,1323.4 L396.3,1323.4 L400.3,1323.4 L404.3,1323.4 L408.4,1323.4 L412.4,1323.4 L416.4,1323.5 L420.4,1323.5 L424.4,1323.5 L428.5,1323.5 L432.5,1323.5 L436.5,1323.5 L440.5,1323.5 L444.6,1323.5 L448.6,1323.6 L452.6,1323.6 L456.6,1323.6 L460.6,1323.6 L464.6,1323.7 L468.7,1323.7 L472.7,1323.8 L476.7,1323.8 L480.7,1323.8 L484.7,1323.9 L488.7,1324.0 L492.7,1324.0 L496.7,1324.1 L500.7,1324.2 L504.8,1324.2 L508.8,1324.3 L512.8,1324.4 L516.8,1324.5 L520.8,1324.6 L524.8,1324.7 L528.8,1324.8 L532.8,1324.8 L536.9,1324.9 L540.9,1325.0 L544.9,1325.1 L548.9,1325.2 L552.9,1325.3 L556.9,1325.4 L560.9,1325.5 L564.9,1325.6 L568.9,1325.8 L573.0,1325.9 L577.0,1326.0 L581.0,1326.1 L585.0,1326.2 L589.0,1326.3 L593.0,1326.4 L597.0,1326.5 L601.1,1326.7 L605.1,1326.8 L609.1,1327.0 L613.1,1327.1 L617.1,1327.3 L621.1,1327.5 L625.1,1327.7 L629.1,1328.0 L633.1,1328.3 L637.1,1328.7 L641.1,1329.1 L645.1,1329.6 L649.1,1330.2 L653.1,1330.7 L657.0,1331.4 L661.0,1332.0 L664.9,1332.7 L668.8,1333.4 L672.8,1334.3 L676.7,1335.2 L680.6,1336.2 L684.6,1337.2 L688.5,1338.4 L692.3,1339.6 L696.1,1340.9 L699.9,1342.3 L703.6,1343.7 L707.2,1345.2 L710.7,1347.0 L714.2,1348.9 L717.7,1351.0 L721.1,1353.3 L724.4,1355.6 L727.7,1358.0 L730.9,1360.4 L734.0,1362.9 L737.0,1365.5 L740.0,1368.2 L742.9,1371.0 L745.8,1373.8 L748.6,1376.6 L751.5,1379.5 L754.4,1382.3 L757.2,1385.1 L760.1,1387.9 L762.9,1390.8 L765.7,1393.6 L768.5,1396.5 L771.3,1399.4 L774.2,1402.2 L777.0,1405.0 L779.9,1407.8 L782.7,1410.7 L785.6,1413.5 L788.5,1416.3 L791.4,1419.1 L794.4,1421.8 L797.4,1424.4 L800.5,1426.9 L803.6,1429.4 L806.9,1431.8 L810.2,1434.2 L813.6,1436.4 L817.0,1438.4 L820.6,1440.2 L824.2,1441.9 L828.0,1443.5 L831.8,1444.8 L835.7,1445.6 L839.7,1446.0 L843.7,1446.3 L847.7,1446.2 L851.7,1445.6 L855.6,1444.6 L859.5,1443.5 L863.3,1442.4 L867.0,1441.0 L870.7,1439.3 L874.3,1437.4 L877.8,1435.4 L881.3,1433.3 L884.6,1431.2 L887.9,1429.0 L891.1,1426.5 L894.2,1424.0 L897.2,1421.3 L900.3,1418.7 L903.3,1416.0 L906.3,1413.3 L909.4,1410.8 L912.5,1408.2 L915.6,1405.7 L918.8,1403.1 L921.9,1400.6 L925.0,1398.1 L928.1,1395.5 L931.2,1393.0 L934.4,1390.6 L937.5,1388.1 L940.7,1385.6 L943.9,1383.2 L947.1,1380.7 L950.3,1378.3 L953.5,1375.9 L956.8,1373.6 L960.0,1371.3 L963.4,1369.1 L966.7,1366.9 L970.1,1364.7 L973.5,1362.5 L976.9,1360.5 L980.4,1358.4 L983.9,1356.4 L987.4,1354.5 L990.9,1352.6 L994.5,1350.7 L998.0,1348.9 L1001.7,1347.1 L1005.3,1345.4 L1008.9,1343.7 L1012.6,1342.2 L1016.3,1340.6 L1020.0,1339.1 L1023.8,1337.6 L1027.6,1336.2 L1031.4,1334.9 L1035.2,1333.7 L1039.0,1332.6 L1042.9,1331.5 L1046.7,1330.4 L1050.6,1329.4 L1054.6,1328.5 L1058.5,1327.7 L1062.4,1326.9 L1066.4,1326.2 L1070.3,1325.6 L1074.3,1324.9 L1078.2,1324.3 L1082.2,1323.8 L1086.2,1323.2 L1090.2,1322.8 L1094.2,1322.3 L1098.2,1321.9 L1102.2,1321.5 L1106.2,1321.1 L1110.2,1320.8 L1114.2,1320.4 L1118.2,1320.1 L1122.2,1319.8 L1126.2,1319.5 L1130.2,1319.2 L1134.2,1319.0 L1138.2,1318.7 L1142.2,1318.5 L1146.2,1318.3 L1150.2,1318.2 L1154.2,1318.0 L1158.2,1317.9 L1162.2,1317.7 L1166.2,1317.6 L1170.2,1317.4 L1174.3,1317.3 L1178.3,1317.2 L1182.3,1317.1 L1186.3,1317.0 L1190.3,1316.9 L1194.3,1316.8 L1198.3,1316.7 L1202.3,1316.6 L1206.4,1316.5 L1210.4,1316.4 L1214.4,1316.3 L1218.4,1316.2 L1222.4,1316.2 L1226.4,1316.1 L1230.4,1316.0 L1234.4,1316.0 L1238.4,1315.9 L1242.5,1315.8 L1246.5,1315.8 L1250.5,1315.7 L1254.5,1315.6 L1258.5,1315.6 L1262.5,1315.5 L1266.5,1315.4 L1270.5,1315.4 L1274.6,1315.3 L1278.6,1315.3 L1282.6,1315.2 L1286.6,1315.1 L1290.6,1315.1 L1294.6,1315.0 L1298.6,1315.0 L1302.6,1314.9 L1306.6,1314.9 L1310.7,1314.8 L1314.7,1314.8 L1318.7,1314.7 L1322.7,1314.7 L1326.7,1314.6 L1330.7,1314.6 L1334.7,1314.6 L1338.7,1314.5 L1342.8,1314.5 L1346.8,1314.4 L1350.8,1314.4 L1354.8,1314.4 L1358.8,1314.3 L1362.8,1314.3 L1366.8,1314.3 L1370.8,1314.2 L1374.9,1314.2 L1378.9,1314.2 L1382.9,1314.1 L1386.9,1314.1 L1390.9,1314.1 L1394.9,1314.0 L1398.9,1314.0 L1402.9,1314.0 L1407.0,1314.0 L1411.0,1313.9 L1415.0,1313.9 L1419.0,1313.9 L1423.0,1313.9 L1427.0,1313.8 L1431.0,1313.8 L1435.0,1313.8 L1439.1,1313.7 L1443.1,1313.7 L1447.1,1313.7 L1451.1,1313.7 L1455.1,1313.6 L1459.1,1313.6 L1463.1,1313.6 L1467.1,1313.6 L1471.2,1313.5 L1475.2,1313.5 L1479.2,1313.5 L1483.2,1313.5 L1487.2,1313.5 L1491.2,1313.4 L1495.2,1313.4 L1499.2,1313.4 L1503.3,1313.4 L1507.3,1313.3 L1511.3,1313.3 L1515.3,1313.3 L1519.3,1313.3 L1523.3,1313.2 L1527.3,1313.2 L1531.3,1313.2 L1535.3,1313.2 L1539.4,1313.2 L1543.4,1313.1 L1547.4,1313.1 L1551.4,1313.1 L1555.4,1313.1 L1559.4,1313.0 L1563.4,1313.0 L1567.4,1313.0 L1571.5,1313.0 L1575.5,1313.0 L1579.5,1312.9 L1583.5,1312.9 L1587.5,1312.9 L1591.5,1312.9 L1595.5,1312.9 L1599.5,1312.8 L1603.6,1312.8 L1607.6,1312.8 L1611.6,1312.8 L1615.6,1312.8 L1619.6,1312.7 L1623.6,1312.7 L1627.6,1312.7 L1631.6,1312.7 L1635.7,1312.7 L1639.7,1312.6 L1643.7,1312.6 L1647.7,1312.6 L1651.7,1312.6 L1655.7,1312.6 L1659.7,1312.6 L1663.7,1312.5 L1667.8,1312.5 L1671.8,1312.5 L1675.8,1312.5 L1679.8,1312.5 L1683.8,1312.5 L1687.8,1312.4 L1691.8,1312.4 L1695.8,1312.4 L1699.9,1312.4 L1703.9,1312.4 L1707.9,1312.4 L1711.9,1312.4 L1715.9,1312.3 L1719.9,1312.3 L1723.9,1312.3 L1727.9,1312.3 L1732.0,1312.3 L1736.0,1312.3 L1740.0,1312.3 L1744.0,1312.2 L1748.0,1312.2 L1752.0,1312.2 L1756.0,1312.2 L1760.0,1312.2 L1764.1,1312.2 L1768.1,1312.2 L1772.1,1312.2 L1776.1,1312.2 L1780.1,1312.2 L1784.1,1312.1 L1788.1,1312.1 L1792.1,1312.1 L1796.2,1312.1 L1800.2,1312.1 L1804.2,1312.1 L1808.2,1312.1 L1812.2,1312.1 L1816.2,1312.1 L1820.2,1312.1 L1824.2,1312.1 L1828.3,1312.1 L1832.3,1312.1 L1836.3,1312.0 L1840.3,1312.0 L1844.3,1312.0 L1848.3,1312.0 L1852.3,1312.0 L1856.3,1312.0 L1860.4,1312.0 L1864.4,1312.0 L1868.4,1312.0 L1872.4,1312.0 L1876.4,1312.0 L1880.4,1312.0 L1884.4,1312.0 L1888.4,1312.0 L1892.5,1312.0 L1896.5,1312.0 L1900.5,1312.0 L1904.5,1312.0 L1908.5,1312.0 L1912.5,1312.0 L1916.5,1312.0 L1920.5,1312.0 L1924.6,1312.0 L1928.6,1312.0 L1932.6,1312.0 L1936.6,1312.0 L1940.6,1312.0 L1944.6,1312.0 L1948.6,1312.0 L1952.6,1312.0 L1956.6,1312.0 L1960.7,1312.0 L1964.7,1312.0 L1968.7,1312.0 L1972.7,1312.0 L1976.7,1312.0 L1980.7,1312.0 L1984.7,1312.0 L1988.7,1312.0 L1992.8,1312.0 L1996.8,1312.0 L2000.8,1312.0 L2004.8,1312.0 L2008.8,1312.0 L2012.8,1312.0 L2016.8,1312.0 L2020.8,1312.0 L2024.9,1312.0 L2028.9,1312.0 L2032.9,1312.0 L2036.9,1312.0 L2040.9,1312.0 L2044.9,1312.0 L2048.9,1312.0 L2052.9,1312.0 L2057.0,1312.0 L2061.0,1312.0 L2065.0,1312.0 L2069.0,1312.0 L2073.0,1312.0 L2077.0,1312.0 L2081.0,1312.0 L2085.0,1312.0 L2089.1,1312.0 L2093.1,1312.0 L2097.1,1312.0 L2101.1,1312.0 L2105.1,1312.0 L2109.1,1312.0 L2113.1,1312.0 L2117.1,1312.0 L2121.2,1312.1 L2125.2,1312.1 L2129.2,1312.1 L2133.2,1312.1 L2137.2,1312.1 L2141.2,1312.1 L2145.2,1312.1 L2149.2,1312.1 L2153.3,1312.1 L2157.3,1312.1 L2161.3,1312.1 L2165.3,1312.1 L2169.3,1312.1 L2173.3,1312.1 L2177.3,1312.1 L2181.3,1312.1 L2185.4,1312.1 L2189.4,1312.1 L2193.4,1312.1 L2197.4,1312.1 L2201.4,1312.1 L2205.4,1312.1 L2209.4,1312.1 L2213.4,1312.2 L2217.5,1312.2 L2221.5,1312.2 L2225.5,1312.2 L2229.5,1312.2 L2233.5,1312.2 L2237.5,1312.2 L2241.5,1312.2 L2245.5,1312.2 L2249.6,1312.2 L2253.6,1312.2 L2257.6,1312.2 L2261.6,1312.2 L2265.6,1312.2 L2269.6,1312.2 L2273.6,1312.3 L2277.6,1312.3 L2281.7,1312.3 L2285.7,1312.3 L2289.7,1312.3 L2293.7,1312.3 L2297.7,1312.3 L2301.7,1312.3 L2305.7,1312.3 L2309.7,1312.3 L2313.8,1312.4 L2317.8,1312.4 L2321.8,1312.4 L2325.8,1312.4 L2329.8,1312.4 L2333.8,1312.4 L2337.8,1312.4 L2341.8,1312.4 L2345.9,1312.4 L2349.9,1312.5 L2353.9,1312.5 L2357.9,1312.5 L2361.9,1312.5 L2365.9,1312.5 L2369.9,1312.5 L2373.9,1312.5 L2378.0,1312.5 L2382.0,1312.6 L2386.0,1312.6 L2390.0,1312.6 L2394.0,1312.6" fill="none" stroke="#000" stroke-width="3.6" stroke-linejoin="round" stroke-linecap="round"/>
<path d="M168.0,1477.3 L172.0,1477.4 L176.0,1477.5 L180.0,1477.5 L184.0,1477.6 L188.0,1477.7 L192.0,1477.8 L196.0,1477.9 L200.0,1478.0 L204.1,1478.0 L208.1,1478.1 L212.1,1478.2 L216.1,1478.3 L220.1,1478.4 L224.1,1478.4 L228.1,1478.5 L232.1,1478.6 L236.1,1478.7 L240.1,1478.8 L244.1,1478.8 L248.1,1478.9 L252.1,1479.0 L256.1,1479.1 L260.1,1479.2 L264.1,1479.2 L268.1,1479.3 L272.1,1479.4 L276.2,1479.5 L280.2,1479.5 L284.2,1479.6 L288.2,1479.7 L292.2,1479.8 L296.2,1479.8 L300.2,1479.9 L304.2,1480.0 L308.2,1480.1 L312.2,1480.1 L316.2,1480.2 L320.2,1480.3 L324.2,1480.4 L328.2,1480.4 L332.2,1480.5 L336.2,1480.6 L340.2,1480.7 L344.3,1480.7 L348.3,1480.8 L352.3,1480.9 L356.3,1480.9 L360.3,1481.0 L364.3,1481.1 L368.3,1481.2 L372.3,1481.2 L376.3,1481.3 L380.3,1481.4 L384.3,1481.4 L388.3,1481.5 L392.3,1481.6 L396.3,1481.6 L400.3,1481.7 L404.3,1481.8 L408.3,1481.8 L412.3,1481.9 L416.4,1482.0 L420.4,1482.0 L424.4,1482.1 L428.4,1482.2 L432.4,1482.2 L436.4,1482.3 L440.4,1482.4 L444.4,1482.4 L448.4,1482.5 L452.4,1482.6 L456.4,1482.6 L460.4,1482.7 L464.4,1482.8 L468.4,1482.8 L472.4,1482.9 L476.4,1482.9 L480.4,1483.0 L484.5,1483.1 L488.5,1483.1 L492.5,1483.2 L496.5,1483.2 L500.5,1483.3 L504.5,1483.4 L508.5,1483.4 L512.5,1483.5 L516.5,1483.5 L520.5,1483.6 L524.5,1483.7 L528.5,1483.7 L532.5,1483.8 L536.5,1483.8 L540.5,1483.9 L544.5,1484.0 L548.6,1484.0 L552.6,1484.1 L556.6,1484.1 L560.6,1484.2 L564.6,1484.2 L568.6,1484.3 L572.6,1484.4 L576.6,1484.4 L580.6,1484.5 L584.6,1484.5 L588.6,1484.6 L592.6,1484.6 L596.6,1484.7 L600.6,1484.7 L604.6,1484.8 L608.6,1484.8 L612.6,1484.9 L616.7,1485.0 L620.7,1485.0 L624.7,1485.1 L628.7,1485.1 L632.7,1485.2 L636.7,1485.2 L640.7,1485.3 L644.7,1485.3 L648.7,1485.4 L652.7,1485.4 L656.7,1485.5 L660.7,1485.5 L664.7,1485.6 L668.7,1485.6 L672.7,1485.7 L676.7,1485.7 L680.8,1485.8 L684.8,1485.8 L688.8,1485.9 L692.8,1485.9 L696.8,1486.0 L700.8,1486.0 L704.8,1486.1 L708.8,1486.1 L712.8,1486.2 L716.8,1486.2 L720.8,1486.3 L724.8,1486.3 L728.8,1486.4 L732.8,1486.4 L736.8,1486.4 L740.8,1486.5 L744.9,1486.5 L748.9,1486.6 L752.9,1486.6 L756.9,1486.7 L760.9,1486.7 L764.9,1486.8 L768.9,1486.8 L772.9,1486.8 L776.9,1486.9 L780.9,1486.9 L784.9,1487.0 L788.9,1487.0 L792.9,1487.0 L796.9,1487.1 L800.9,1487.1 L804.9,1487.1 L809.0,1487.2 L813.0,1487.2 L817.0,1487.3 L821.0,1487.3 L825.0,1487.3 L829.0,1487.4 L833.0,1487.4 L837.0,1487.4 L841.0,1487.5 L845.0,1487.5 L849.0,1487.5 L853.0,1487.5 L857.0,1487.6 L861.0,1487.6 L865.0,1487.6 L869.0,1487.7 L873.1,1487.7 L877.1,1487.7 L881.1,1487.8 L885.1,1487.8 L889.1,1487.8 L893.1,1487.9 L897.1,1487.9 L901.1,1487.9 L905.1,1488.0 L909.1,1488.0 L913.1,1488.1 L917.1,1488.1 L921.1,1488.1 L925.1,1488.2 L929.1,1488.2 L933.1,1488.2 L937.2,1488.3 L941.2,1488.3 L945.2,1488.4 L949.2,1488.4 L953.2,1488.5 L957.2,1488.5 L961.2,1488.5 L965.2,1488.6 L969.2,1488.6 L973.2,1488.7 L977.2,1488.7 L981.2,1488.8 L985.2,1488.8 L989.2,1488.9 L993.2,1488.9 L997.2,1489.0 L1001.2,1489.1 L1005.3,1489.1 L1009.3,1489.2 L1013.3,1489.2 L1017.3,1489.3 L1021.3,1489.4 L1025.3,1489.4 L1029.3,1489.5 L1033.3,1489.5 L1037.3,1489.6 L1041.3,1489.7 L1045.3,1489.8 L1049.3,1489.8 L1053.4,1489.9 L1057.4,1490.0 L1061.4,1490.1 L1065.4,1490.2 L1069.4,1490.3 L1073.4,1490.4 L1077.4,1490.5 L1081.4,1490.6 L1085.4,1490.8 L1089.4,1490.9 L1093.4,1491.0 L1097.4,1491.2 L1101.4,1491.4 L1105.4,1491.6 L1109.4,1491.9 L1113.4,1492.2 L1117.4,1492.6 L1121.4,1493.1 L1125.3,1493.5 L1129.3,1494.0 L1133.3,1494.5 L1137.3,1495.0 L1141.2,1495.6 L1145.2,1496.2 L1149.2,1496.9 L1153.1,1497.7 L1157.0,1498.6 L1160.9,1499.5 L1164.7,1500.7 L1168.4,1502.1 L1172.2,1503.7 L1175.8,1505.5 L1179.4,1507.3 L1182.8,1509.3 L1186.2,1511.4 L1189.6,1513.8 L1192.7,1516.3 L1195.7,1519.0 L1198.4,1521.8 L1200.9,1524.9 L1203.3,1528.1 L1205.5,1531.5 L1207.6,1535.0 L1209.6,1538.5 L1211.5,1542.0 L1213.3,1545.6 L1215.1,1549.2 L1216.7,1552.9 L1218.3,1556.6 L1219.8,1560.3 L1221.1,1564.0 L1222.4,1567.8 L1223.7,1571.6 L1224.8,1575.4 L1226.0,1579.3 L1227.1,1583.2 L1228.1,1587.1 L1229.1,1590.9 L1230.1,1594.8 L1231.0,1598.7 L1231.9,1602.6 L1232.8,1606.5 L1233.6,1610.5 L1234.4,1614.4 L1235.2,1618.3 L1235.9,1622.3 L1236.6,1626.2 L1237.4,1630.1 L1238.1,1634.1 L1238.8,1638.0 L1239.6,1642.0 L1240.3,1645.9 L1241.0,1649.8 L1241.8,1653.8 L1242.5,1657.7 L1243.2,1661.7 L1243.9,1665.6 L1244.6,1669.6 L1245.3,1673.5 L1246.0,1677.5 L1246.6,1681.4 L1247.3,1685.4 L1248.0,1689.3 L1248.6,1693.3 L1249.2,1697.2 L1249.8,1701.2 L1250.4,1705.1 L1251.0,1709.1 L1251.7,1713.1 L1252.3,1717.0 L1252.9,1721.0 L1253.5,1724.9 L1254.1,1728.9 L1254.7,1732.9 L1255.4,1736.8 L1256.0,1740.8 L1256.6,1744.7 L1257.3,1748.7 L1257.9,1752.6 L1258.5,1756.6 L1259.2,1760.5 L1259.8,1764.5 L1260.5,1768.5 L1261.2,1772.4 L1261.9,1776.3 L1262.6,1780.3 L1263.3,1784.2 L1264.0,1788.2 L1264.7,1792.1 L1265.5,1796.1 L1266.2,1800.0 L1267.0,1803.9 L1267.8,1807.9 L1268.6,1811.8 L1269.5,1815.7 L1270.4,1819.6 L1271.4,1823.5 L1272.4,1827.4 L1273.5,1831.2 L1274.6,1835.1 L1275.8,1838.9 L1277.1,1842.7 L1278.5,1846.4 L1280.1,1850.2 L1282.0,1853.8 L1284.3,1856.9 L1287.6,1859.2 L1291.3,1857.5 L1294.0,1854.7 L1296.1,1851.3 L1297.8,1847.5 L1299.3,1843.7 L1300.7,1840.0 L1302.0,1836.2 L1303.2,1832.4 L1304.4,1828.5 L1305.4,1824.6 L1306.4,1820.7 L1307.3,1816.8 L1308.2,1812.9 L1309.0,1809.0 L1309.8,1805.1 L1310.5,1801.1 L1311.3,1797.2 L1312.0,1793.2 L1312.6,1789.3 L1313.3,1785.3 L1314.0,1781.4 L1314.6,1777.4 L1315.3,1773.5 L1316.0,1769.5 L1316.6,1765.6 L1317.3,1761.6 L1317.9,1757.7 L1318.5,1753.7 L1319.2,1749.7 L1319.8,1745.8 L1320.4,1741.8 L1321.0,1737.9 L1321.6,1733.9 L1322.3,1730.0 L1322.9,1726.0 L1323.5,1722.0 L1324.2,1718.1 L1324.8,1714.1 L1325.4,1710.2 L1326.0,1706.2 L1326.6,1702.2 L1327.2,1698.3 L1327.9,1694.3 L1328.5,1690.4 L1329.2,1686.4 L1329.8,1682.5 L1330.5,1678.5 L1331.2,1674.6 L1331.9,1670.6 L1332.6,1666.7 L1333.3,1662.8 L1334.1,1658.8 L1334.8,1654.9 L1335.6,1650.9 L1336.4,1647.0 L1337.2,1643.1 L1338.1,1639.2 L1338.9,1635.3 L1339.8,1631.4 L1340.7,1627.4 L1341.6,1623.5 L1342.5,1619.6 L1343.5,1615.7 L1344.5,1611.9 L1345.6,1608.0 L1346.8,1604.2 L1348.0,1600.4 L1349.3,1596.6 L1350.8,1592.8 L1352.2,1589.1 L1353.8,1585.4 L1355.5,1581.7 L1357.2,1578.1 L1359.0,1574.6 L1361.0,1571.1 L1363.1,1567.6 L1365.3,1564.3 L1367.5,1560.9 L1369.9,1557.7 L1372.3,1554.6 L1374.9,1551.5 L1377.7,1548.5 L1380.5,1545.6 L1383.4,1542.8 L1386.3,1540.2 L1389.4,1537.7 L1392.6,1535.2 L1395.9,1532.9 L1399.2,1530.6 L1402.7,1528.5 L1406.1,1526.6 L1409.7,1524.7 L1413.2,1523.0 L1416.9,1521.3 L1420.6,1519.7 L1424.4,1518.3 L1428.2,1516.9 L1432.0,1515.6 L1435.8,1514.4 L1439.6,1513.3 L1443.5,1512.2 L1447.3,1511.2 L1451.3,1510.3 L1455.2,1509.4 L1459.1,1508.6 L1463.1,1507.9 L1467.0,1507.2 L1471.0,1506.6 L1474.9,1506.0 L1478.9,1505.5 L1482.8,1505.0 L1486.8,1504.5 L1490.8,1504.0 L1494.8,1503.5 L1498.8,1503.1 L1502.8,1502.7 L1506.8,1502.3 L1510.8,1502.0 L1514.8,1501.6 L1518.8,1501.3 L1522.7,1501.0 L1526.7,1500.7 L1530.7,1500.4 L1534.7,1500.1 L1538.7,1499.8 L1542.7,1499.5 L1546.7,1499.3 L1550.7,1499.0 L1554.7,1498.8 L1558.7,1498.5 L1562.7,1498.3 L1566.7,1498.1 L1570.7,1497.8 L1574.7,1497.6 L1578.7,1497.5 L1582.7,1497.3 L1586.7,1497.1 L1590.8,1497.0 L1594.8,1496.8 L1598.8,1496.7 L1602.8,1496.6 L1606.8,1496.5 L1610.8,1496.4 L1614.8,1496.3 L1618.8,1496.2 L1622.8,1496.1 L1626.8,1496.0 L1630.8,1496.0 L1634.8,1495.9 L1638.8,1495.8 L1642.8,1495.7 L1646.8,1495.6 L1650.8,1495.5 L1654.8,1495.4 L1658.8,1495.4 L1662.8,1495.3 L1666.8,1495.2 L1670.8,1495.1 L1674.8,1495.1 L1678.8,1495.0 L1682.8,1494.9 L1686.8,1494.8 L1690.9,1494.8 L1694.9,1494.7 L1698.9,1494.6 L1702.9,1494.6 L1706.9,1494.5 L1710.9,1494.4 L1714.9,1494.4 L1718.9,1494.3 L1722.9,1494.2 L1726.9,1494.2 L1730.9,1494.1 L1734.9,1494.1 L1738.9,1494.0 L1742.9,1494.0 L1746.9,1493.9 L1750.9,1493.8 L1755.0,1493.8 L1759.0,1493.7 L1763.0,1493.7 L1767.0,1493.6 L1771.0,1493.6 L1775.0,1493.5 L1779.0,1493.5 L1783.0,1493.5 L1787.0,1493.4 L1791.0,1493.4 L1795.0,1493.3 L1799.0,1493.3 L1803.0,1493.2 L1807.0,1493.2 L1811.1,1493.2 L1815.1,1493.1 L1819.1,1493.1 L1823.1,1493.0 L1827.1,1493.0 L1831.1,1493.0 L1835.1,1492.9 L1839.1,1492.9 L1843.1,1492.9 L1847.1,1492.8 L1851.1,1492.8 L1855.1,1492.8 L1859.1,1492.7 L1863.1,1492.7 L1867.2,1492.7 L1871.2,1492.6 L1875.2,1492.6 L1879.2,1492.6 L1883.2,1492.5 L1887.2,1492.5 L1891.2,1492.5 L1895.2,1492.5 L1899.2,1492.4 L1903.2,1492.4 L1907.2,1492.4 L1911.2,1492.3 L1915.2,1492.3 L1919.2,1492.3 L1923.2,1492.3 L1927.3,1492.2 L1931.3,1492.2 L1935.3,1492.2 L1939.3,1492.2 L1943.3,1492.1 L1947.3,1492.1 L1951.3,1492.1 L1955.3,1492.0 L1959.3,1492.0 L1963.3,1492.0 L1967.3,1492.0 L1971.3,1491.9 L1975.3,1491.9 L1979.3,1491.9 L1983.3,1491.9 L1987.3,1491.8 L1991.4,1491.8 L1995.4,1491.8 L1999.4,1491.8 L2003.4,1491.7 L2007.4,1491.7 L2011.4,1491.7 L2015.4,1491.7 L2019.4,1491.6 L2023.4,1491.6 L2027.4,1491.6 L2031.4,1491.6 L2035.4,1491.5 L2039.4,1491.5 L2043.4,1491.5 L2047.4,1491.5 L2051.4,1491.4 L2055.5,1491.4 L2059.5,1491.4 L2063.5,1491.4 L2067.5,1491.4 L2071.5,1491.3 L2075.5,1491.3 L2079.5,1491.3 L2083.5,1491.3 L2087.5,1491.2 L2091.5,1491.2 L2095.5,1491.2 L2099.5,1491.2 L2103.5,1491.2 L2107.5,1491.1 L2111.5,1491.1 L2115.5,1491.1 L2119.6,1491.1 L2123.6,1491.1 L2127.6,1491.0 L2131.6,1491.0 L2135.6,1491.0 L2139.6,1491.0 L2143.6,1491.0 L2147.6,1490.9 L2151.6,1490.9 L2155.6,1490.9 L2159.6,1490.9 L2163.6,1490.9 L2167.6,1490.8 L2171.6,1490.8 L2175.6,1490.8 L2179.6,1490.8 L2183.7,1490.8 L2187.7,1490.8 L2191.7,1490.7 L2195.7,1490.7 L2199.7,1490.7 L2203.7,1490.7 L2207.7,1490.7 L2211.7,1490.7 L2215.7,1490.7 L2219.7,1490.6 L2223.7,1490.6 L2227.7,1490.6 L2231.7,1490.6 L2235.7,1490.6 L2239.7,1490.6 L2243.8,1490.6 L2247.8,1490.5 L2251.8,1490.5 L2255.8,1490.5 L2259.8,1490.5 L2263.8,1490.5 L2267.8,1490.5 L2271.8,1490.5 L2275.8,1490.5 L2279.8,1490.5 L2283.8,1490.4 L2287.8,1490.4 L2291.8,1490.4 L2295.8,1490.4 L2299.8,1490.4 L2303.8,1490.4 L2307.9,1490.4 L2311.9,1490.4 L2315.9,1490.4 L2319.9,1490.4 L2323.9,1490.4 L2327.9,1490.4 L2331.9,1490.3 L2335.9,1490.3 L2339.9,1490.3 L2343.9,1490.3 L2347.9,1490.3 L2351.9,1490.3 L2355.9,1490.3 L2359.9,1490.3 L2363.9,1490.3 L2368.0,1490.3 L2372.0,1490.3 L2376.0,1490.3 L2380.0,1490.3 L2384.0,1490.3 L2388.0,1490.3 L2392.0,1490.3 L2396.0,1490.3" fill="none" stroke="#000" stroke-width="3.6" stroke-linejoin="round" stroke-linecap="round"/>
<rect x="2195.4" y="98.0" width="7.2" height="32.5" rx="2.2" ry="2.2"/>
<rect x="2195.4" y="161.1" width="7.2" height="32.5" rx="2.2" ry="2.2"/>
<rect x="2195.4" y="224.2" width="7.2" height="32.5" rx="2.2" ry="2.2"/>
<rect x="2195.4" y="287.3" width="7.2" height="32.5" rx="2.2" ry="2.2"/>
<rect x="2195.4" y="350.4" width="7.2" height="25.6" rx="2.2" ry="2.2"/>
<rect x="2144.1" y="444.0" width="7.2" height="32.5" rx="2.2" ry="2.2"/>
<rect x="2144.1" y="507.1" width="7.2" height="32.5" rx="2.2" ry="2.2"/>
<rect x="2144.1" y="570.2" width="7.2" height="32.5" rx="2.2" ry="2.2"/>
<rect x="2144.1" y="633.3" width="7.2" height="32.5" rx="2.2" ry="2.2"/>
<rect x="2144.1" y="696.4" width="7.2" height="25.6" rx="2.2" ry="2.2"/>
<rect x="2163.7" y="785.7" width="7.2" height="32.5" rx="2.2" ry="2.2"/>
<rect x="2163.7" y="848.8" width="7.2" height="32.5" rx="2.2" ry="2.2"/>
<rect x="2163.7" y="911.9" width="7.2" height="32.5" rx="2.2" ry="2.2"/>
<rect x="2163.7" y="975.0" width="7.2" height="32.5" rx="2.2" ry="2.2"/>
<rect x="2163.7" y="1038.1" width="7.2" height="25.6" rx="2.2" ry="2.2"/>
<rect x="837.5" y="1242.4" width="7.2" height="32.5" rx="2.2" ry="2.2"/>
<rect x="837.5" y="1305.5" width="7.2" height="32.5" rx="2.2" ry="2.2"/>
<rect x="837.5" y="1368.6" width="7.2" height="32.5" rx="2.2" ry="2.2"/>
<rect x="837.5" y="1431.7" width="7.2" height="32.5" rx="2.2" ry="2.2"/>
<rect x="837.5" y="1494.8" width="7.2" height="25.6" rx="2.2" ry="2.2"/>
<rect x="1284.8" y="1614.7" width="7.2" height="32.5" rx="2.2" ry="2.2"/>
<rect x="1284.8" y="1677.8" width="7.2" height="32.5" rx="2.2" ry="2.2"/>
<rect x="1284.8" y="1740.9" width="7.2" height="32.5" rx="2.2" ry="2.2"/>
<rect x="1284.8" y="1804.0" width="7.2" height="32.5" rx="2.2" ry="2.2"/>
<rect x="1284.8" y="1867.1" width="7.2" height="25.6" rx="2.2" ry="2.2"/>
<path d="M168,1920 V83 H2432 V1920 M164,1904 H2436" fill="none" stroke="#000" stroke-width="8" stroke-linejoin="miter"/>
<rect x="258.3" y="1902" width="8" height="42.0" rx="2" ry="2"/>
<rect x="447.0" y="1902" width="8" height="42.0" rx="2" ry="2"/>
<rect x="635.7" y="1902" width="8" height="42.0" rx="2" ry="2"/>
<rect x="824.3" y="1902" width="8" height="42.0" rx="2" ry="2"/>
<rect x="1013.0" y="1902" width="8" height="42.0" rx="2" ry="2"/>
<rect x="1201.7" y="1902" width="8" height="42.0" rx="2" ry="2"/>
<rect x="1390.3" y="1902" width="8" height="42.0" rx="2" ry="2"/>
<rect x="1579.0" y="1902" width="8" height="42.0" rx="2" ry="2"/>
<rect x="1767.7" y="1902" width="8" height="42.0" rx="2" ry="2"/>
<rect x="1956.3" y="1902" width="8" height="42.0" rx="2" ry="2"/>
<rect x="2145.0" y="1902" width="8" height="42.0" rx="2" ry="2"/>
<rect x="2333.7" y="1902" width="8" height="42.0" rx="2" ry="2"/>
<rect x="352.7" y="1902" width="8" height="24.0" rx="2" ry="2"/>
<rect x="541.3" y="1902" width="8" height="24.0" rx="2" ry="2"/>
<rect x="730.0" y="1902" width="8" height="24.0" rx="2" ry="2"/>
<rect x="918.7" y="1902" width="8" height="24.0" rx="2" ry="2"/>
<rect x="1107.3" y="1902" width="8" height="24.0" rx="2" ry="2"/>
<rect x="1296.0" y="1902" width="8" height="24.0" rx="2" ry="2"/>
<rect x="1484.7" y="1902" width="8" height="24.0" rx="2" ry="2"/>
<rect x="1673.3" y="1902" width="8" height="24.0" rx="2" ry="2"/>
<rect x="1862.0" y="1902" width="8" height="24.0" rx="2" ry="2"/>
<rect x="2050.7" y="1902" width="8" height="24.0" rx="2" ry="2"/>
<rect x="2239.3" y="1902" width="8" height="24.0" rx="2" ry="2"/>
<rect x="164.0" y="1902" width="8" height="24.0" rx="2" ry="2"/>
<rect x="2428.0" y="1902" width="8" height="24.0" rx="2" ry="2"/>
<text transform="translate(261.8,2024.5) scale(1,1.02)" font-size="76.2" text-anchor="middle" font-weight="normal" >70</text>
<text transform="translate(450.5,2024.5) scale(1,1.02)" font-size="76.2" text-anchor="middle" font-weight="normal" >80</text>
<text transform="translate(639.2,2024.5) scale(1,1.02)" font-size="76.2" text-anchor="middle" font-weight="normal" >90</text>
<text transform="translate(827.8,2024.5) scale(1,1.02)" font-size="76.2" text-anchor="middle" font-weight="normal" >100</text>
<text transform="translate(1016.5,2024.5) scale(1,1.02)" font-size="76.2" text-anchor="middle" font-weight="normal" >110</text>
<text transform="translate(1205.2,2024.5) scale(1,1.02)" font-size="76.2" text-anchor="middle" font-weight="normal" >120</text>
<text transform="translate(1393.8,2024.5) scale(1,1.02)" font-size="76.2" text-anchor="middle" font-weight="normal" >130</text>
<text transform="translate(1582.5,2024.5) scale(1,1.02)" font-size="76.2" text-anchor="middle" font-weight="normal" >140</text>
<text transform="translate(1771.2,2024.5) scale(1,1.02)" font-size="76.2" text-anchor="middle" font-weight="normal" >150</text>
<text transform="translate(1959.8,2024.5) scale(1,1.02)" font-size="76.2" text-anchor="middle" font-weight="normal" >160</text>
<text transform="translate(2148.5,2024.5) scale(1,1.02)" font-size="76.2" text-anchor="middle" font-weight="normal" >170</text>
<text transform="translate(2337.2,2024.5) scale(1,1.02)" font-size="76.2" text-anchor="middle" font-weight="normal" >180</text>
<text transform="translate(968.9,2139.0) scale(1,1.03)" font-size="96" text-anchor="start" font-weight="normal" >Temperatura (°C)</text>
<text transform="translate(115,1231) rotate(-90) scale(1,1.03)" font-size="95.5">ENDO</text>
<line x1="79.5" y1="912.5" x2="79.5" y2="655" stroke="#000" stroke-width="3"/>
<polygon points="79.5,612.5 66.8,659.5 92.2,659.5"/>
<text transform="translate(204.9,372.3) scale(1,1.05)" font-size="67.8" text-anchor="start" font-weight="bold" >PHB-HV NaturePlast</text>
<text transform="translate(195.2,721.1) scale(1,1.05)" font-size="67.8" text-anchor="start" font-weight="bold" >PHB-HV from CHL</text>
<text transform="translate(198.3,1033.2) scale(1,1.05)" font-size="67.8" text-anchor="start" font-weight="bold" >PHB-HV from CYC</text>
<text transform="translate(1720.1,1260.8) scale(1,1.05)" font-size="67.8" text-anchor="start" font-weight="bold" >PHB-HV from CYC</text>
<text transform="translate(1717.5,1392.0) scale(1,1.05)" font-size="67.8" text-anchor="start" font-weight="bold" >PHB-HV from CHL</text>
<text transform="translate(1706.0,1579.7) scale(1,1.05)" font-size="67.8" text-anchor="start" font-weight="bold" >PHB-HV NaturePlast</text>
<text transform="translate(1565.2,159.9) scale(1,1.05)" font-size="67.8" text-anchor="start" font-weight="bold" >T<tspan font-size="40" dy="22.5" font-weight="bold" >m</tspan><tspan dy="-22.5"> = 172.5 °C</tspan></text>
<text transform="translate(1552.7,250.5) scale(1,1.05)" font-size="67.8" text-anchor="start" font-weight="bold" >Δ<tspan font-style="italic">H</tspan><tspan font-size="40" dy="22.5" font-weight="bold" font-style="italic">m</tspan><tspan dy="-22.5"> = 92.5 J/g</tspan></text>
<text transform="translate(1601.3,342.4) scale(1,1.05)" font-size="67.8" text-anchor="start" font-weight="bold" >X<tspan font-size="40" dy="22.5" font-weight="normal" stroke="#000" stroke-width="1.2">C</tspan><tspan dy="-22.5"> = 64.1%</tspan></text>
<text transform="translate(1567.8,493.0) scale(1,1.05)" font-size="67.8" text-anchor="start" font-weight="bold" >T<tspan font-size="40" dy="22.5" font-weight="bold" >m</tspan><tspan dy="-22.5"> = 170.0 °C</tspan></text>
<text transform="translate(1555.5,585.2) scale(1,1.05)" font-size="67.8" text-anchor="start" font-weight="bold" >Δ<tspan font-style="italic">H</tspan><tspan font-size="40" dy="22.5" font-weight="bold" font-style="italic">m</tspan><tspan dy="-22.5"> = 67.5 J/g</tspan></text>
<text transform="translate(1605.0,678.1) scale(1,1.05)" font-size="67.8" text-anchor="start" font-weight="bold" >X<tspan font-size="40" dy="22.5" font-weight="normal" stroke="#000" stroke-width="1.2">C</tspan><tspan dy="-22.5"> = 46.2%</tspan></text>
<text transform="translate(1558.0,828.8) scale(1,1.05)" font-size="67.8" text-anchor="start" font-weight="bold" >T<tspan font-size="40" dy="22.5" font-weight="bold" >m</tspan><tspan dy="-22.5"> = 171.0 °C</tspan></text>
<text transform="translate(1551.6,922.5) scale(1,1.05)" font-size="67.8" text-anchor="start" font-weight="bold" >Δ<tspan font-style="italic">H</tspan><tspan font-size="40" dy="22.5" font-weight="bold" font-style="italic">m</tspan><tspan dy="-22.5"> = 78.4 J/g</tspan></text>
<text transform="translate(1600.0,1014.4) scale(1,1.05)" font-size="67.8" text-anchor="start" font-weight="bold" >X<tspan font-size="40" dy="22.5" font-weight="normal" stroke="#000" stroke-width="1.2">C</tspan><tspan dy="-22.5"> = 53.7%</tspan></text>
<text transform="translate(1044.6,1449.4) scale(1,1.05)" font-size="67.8" text-anchor="start" font-weight="bold" >T<tspan font-size="40" dy="22.5" font-weight="bold" >c</tspan><tspan dy="-22.5"> = 100.6 °C</tspan></text>
<text transform="translate(1384.0,1844.3) scale(1,1.05)" font-size="67.8" text-anchor="start" font-weight="bold" >T<tspan font-size="40" dy="22.5" font-weight="bold" >c</tspan><tspan dy="-22.5"> = 123.9 °C</tspan></text>
</svg>
</body></html>
